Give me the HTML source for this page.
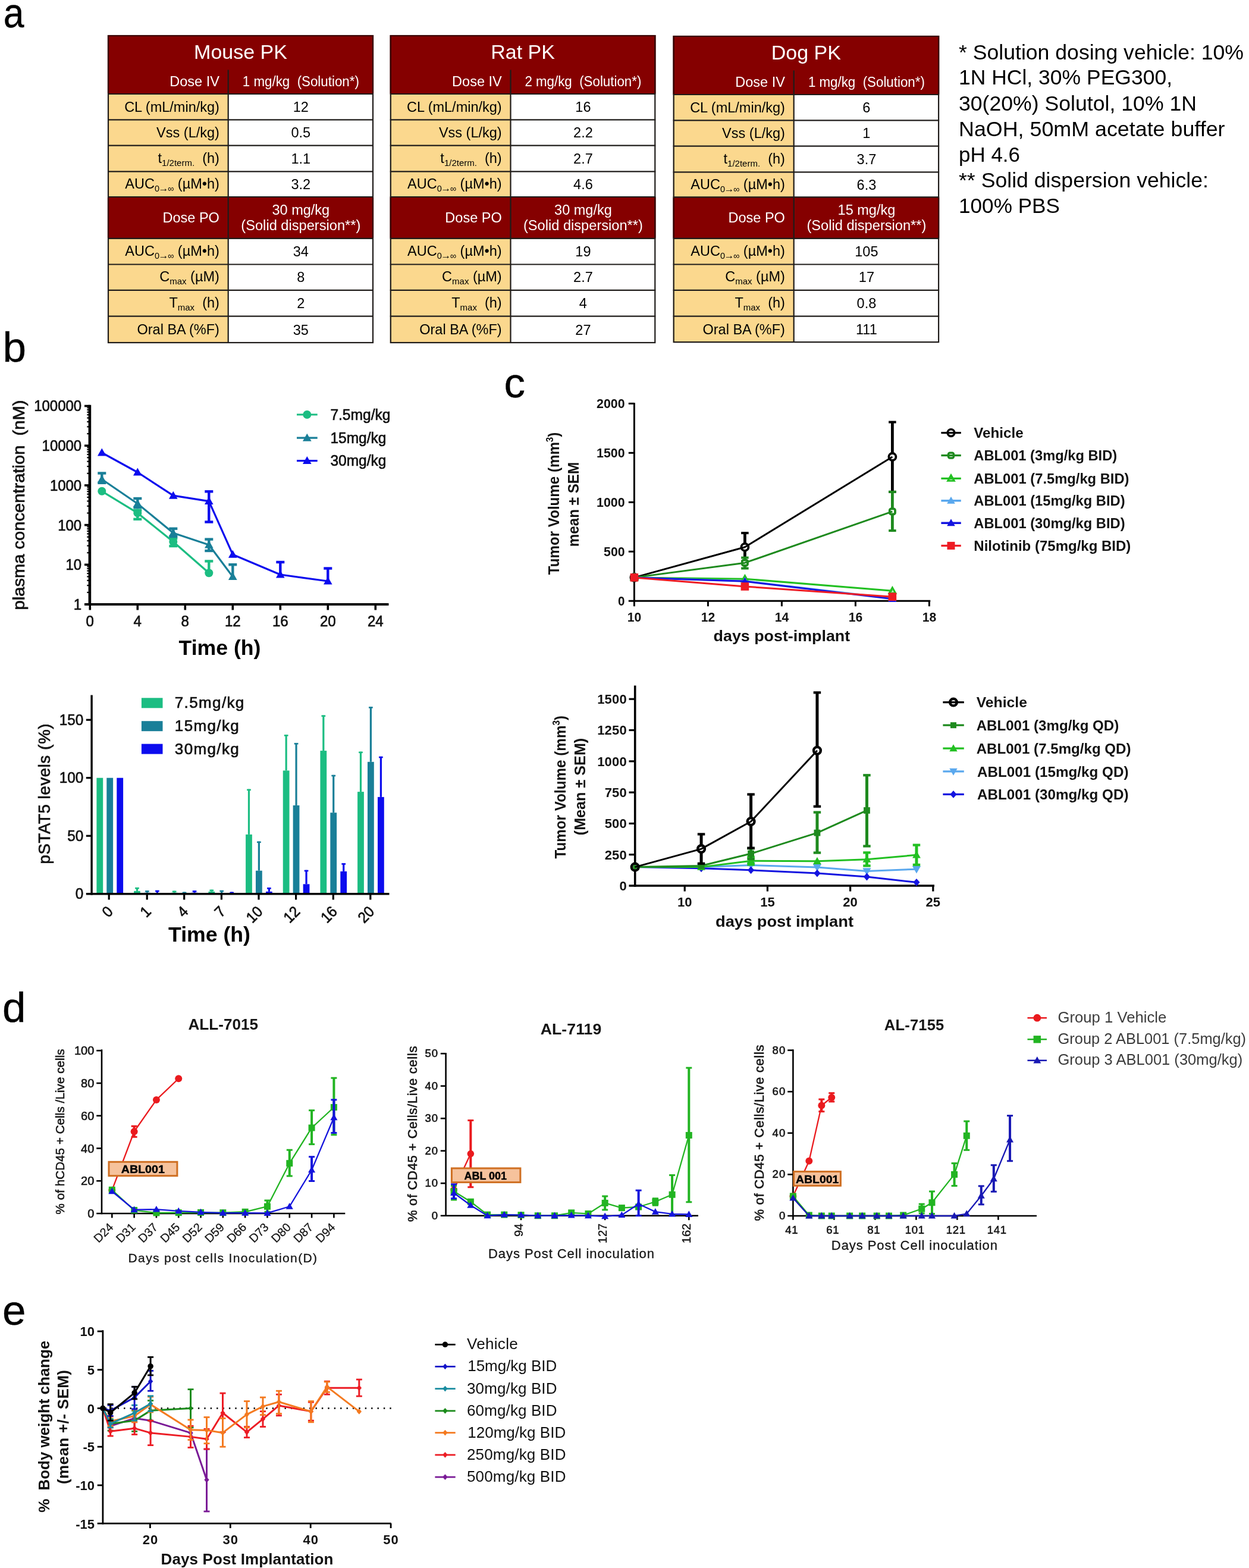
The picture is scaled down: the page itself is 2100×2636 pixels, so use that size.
<!DOCTYPE html>
<html lang="en">
<head>
<meta charset="utf-8">
<title>ABL001 pharmacokinetics and in vivo efficacy</title>
<style>
html,body{margin:0;padding:0;background:#fff}
body{width:2100px;height:2636px;overflow:hidden}
svg{display:block;font-family:"Liberation Sans",Arial,Helvetica,sans-serif}
</style>
</head>
<body>
<svg width="2100" height="2636" viewBox="0 0 2100 2636">
<rect x="0" y="0" width="2100" height="2636" fill="#ffffff"/>
<g id="panel-a">
<rect x="181" y="59" width="447" height="518" fill="#fff"/>
<rect x="181" y="59" width="447" height="99" fill="#850000"/>
<rect x="181" y="158" width="202.7" height="173" fill="#fbd88e"/>
<rect x="181" y="331" width="447" height="69.8" fill="#850000"/>
<rect x="181" y="400.8" width="202.7" height="176.2" fill="#fbd88e"/>
<rect x="182" y="60" width="445" height="516" fill="none" stroke="#1f1c1a" stroke-width="2.2"/>
<path d="M182 157V60H627V157" fill="none" stroke="#3a0000" stroke-width="2.2"/>
<line x1="182" y1="332" x2="182" y2="399.8" stroke="#3a0000" stroke-width="2.2"/>
<line x1="627" y1="332" x2="627" y2="399.8" stroke="#3a0000" stroke-width="2.2"/>
<line x1="181" y1="158" x2="628" y2="158" stroke="#1f1c1a" stroke-width="2.2"/>
<line x1="181" y1="201.3" x2="628" y2="201.3" stroke="#1f1c1a" stroke-width="2.2"/>
<line x1="181" y1="244.7" x2="628" y2="244.7" stroke="#1f1c1a" stroke-width="2.2"/>
<line x1="181" y1="288.3" x2="628" y2="288.3" stroke="#1f1c1a" stroke-width="2.2"/>
<line x1="181" y1="331" x2="628" y2="331" stroke="#1f1c1a" stroke-width="2.2"/>
<line x1="181" y1="400.8" x2="628" y2="400.8" stroke="#1f1c1a" stroke-width="2.2"/>
<line x1="181" y1="444.5" x2="628" y2="444.5" stroke="#1f1c1a" stroke-width="2.2"/>
<line x1="181" y1="487.8" x2="628" y2="487.8" stroke="#1f1c1a" stroke-width="2.2"/>
<line x1="181" y1="531.7" x2="628" y2="531.7" stroke="#1f1c1a" stroke-width="2.2"/>
<line x1="383.7" y1="117.5" x2="383.7" y2="577" stroke="#1f1c1a" stroke-width="2.2"/>
<text x="404.5" y="99" font-size="34" text-anchor="middle" fill="#fff" xml:space="preserve">Mouse PK</text>
<text x="368.9" y="144.5" font-size="23.5" text-anchor="end" fill="#fff" xml:space="preserve">Dose IV</text>
<text x="505.85" y="144.5" font-size="23.5" text-anchor="middle" fill="#fff" textLength="196" lengthAdjust="spacingAndGlyphs" xml:space="preserve">1 mg/kg  (Solution*)</text>
<text x="368.9" y="187.95" font-size="23.5" text-anchor="end" xml:space="preserve">CL (mL/min/kg)</text>
<text x="505.85" y="187.95" font-size="23.5" text-anchor="middle" xml:space="preserve">12</text>
<text x="368.9" y="231.3" font-size="23.5" text-anchor="end" xml:space="preserve">Vss (L/kg)</text>
<text x="505.85" y="231.3" font-size="23.5" text-anchor="middle" xml:space="preserve">0.5</text>
<text x="368.9" y="273.8" font-size="23.5" text-anchor="end" xml:space="preserve">t<tspan font-size="15" dy="5">1/2term.</tspan><tspan dy="-5">  (h)</tspan></text>
<text x="505.85" y="274.8" font-size="23.5" text-anchor="middle" xml:space="preserve">1.1</text>
<text x="368.9" y="316.95" font-size="23.5" text-anchor="end" xml:space="preserve">AUC<tspan font-size="14.5" dy="5">0<tspan font-size="17" dx="-1.5">→</tspan><tspan dx="-1.5">∞</tspan></tspan><tspan dy="-5"> (µM•h)</tspan></text>
<text x="505.85" y="317.95" font-size="23.5" text-anchor="middle" xml:space="preserve">3.2</text>
<text x="368.9" y="373.9" font-size="23.5" text-anchor="end" fill="#fff" xml:space="preserve">Dose PO</text>
<text x="505.85" y="360.5" font-size="23.5" text-anchor="middle" fill="#fff" xml:space="preserve">30 mg/kg</text>
<text x="505.85" y="386.7" font-size="23.5" text-anchor="middle" fill="#fff" textLength="201" lengthAdjust="spacingAndGlyphs" xml:space="preserve">(Solid dispersion**)</text>
<text x="368.9" y="429.95" font-size="23.5" text-anchor="end" xml:space="preserve">AUC<tspan font-size="14.5" dy="5">0<tspan font-size="17" dx="-1.5">→</tspan><tspan dx="-1.5">∞</tspan></tspan><tspan dy="-5"> (µM•h)</tspan></text>
<text x="505.85" y="430.95" font-size="23.5" text-anchor="middle" xml:space="preserve">34</text>
<text x="368.9" y="473.45" font-size="23.5" text-anchor="end" xml:space="preserve">C<tspan font-size="15" dy="5">max</tspan><tspan dy="-5"> (µM)</tspan></text>
<text x="505.85" y="474.45" font-size="23.5" text-anchor="middle" xml:space="preserve">8</text>
<text x="368.9" y="517.05" font-size="23.5" text-anchor="end" xml:space="preserve">T<tspan font-size="15" dy="5">max</tspan><tspan dy="-5">  (h)</tspan></text>
<text x="505.85" y="518.05" font-size="23.5" text-anchor="middle" xml:space="preserve">2</text>
<text x="368.9" y="562.35" font-size="23.5" text-anchor="end" xml:space="preserve">Oral BA (%F)</text>
<text x="505.85" y="562.65" font-size="23.5" text-anchor="middle" xml:space="preserve">35</text>
<rect x="655.8" y="59" width="446.5" height="518" fill="#fff"/>
<rect x="655.8" y="59" width="446.5" height="99" fill="#850000"/>
<rect x="655.8" y="158" width="202.7" height="173" fill="#fbd88e"/>
<rect x="655.8" y="331" width="446.5" height="69.8" fill="#850000"/>
<rect x="655.8" y="400.8" width="202.7" height="176.2" fill="#fbd88e"/>
<rect x="656.8" y="60" width="444.5" height="516" fill="none" stroke="#1f1c1a" stroke-width="2.2"/>
<path d="M656.8 157V60H1101.3V157" fill="none" stroke="#3a0000" stroke-width="2.2"/>
<line x1="656.8" y1="332" x2="656.8" y2="399.8" stroke="#3a0000" stroke-width="2.2"/>
<line x1="1101.3" y1="332" x2="1101.3" y2="399.8" stroke="#3a0000" stroke-width="2.2"/>
<line x1="655.8" y1="158" x2="1102.3" y2="158" stroke="#1f1c1a" stroke-width="2.2"/>
<line x1="655.8" y1="201.3" x2="1102.3" y2="201.3" stroke="#1f1c1a" stroke-width="2.2"/>
<line x1="655.8" y1="244.7" x2="1102.3" y2="244.7" stroke="#1f1c1a" stroke-width="2.2"/>
<line x1="655.8" y1="288.3" x2="1102.3" y2="288.3" stroke="#1f1c1a" stroke-width="2.2"/>
<line x1="655.8" y1="331" x2="1102.3" y2="331" stroke="#1f1c1a" stroke-width="2.2"/>
<line x1="655.8" y1="400.8" x2="1102.3" y2="400.8" stroke="#1f1c1a" stroke-width="2.2"/>
<line x1="655.8" y1="444.5" x2="1102.3" y2="444.5" stroke="#1f1c1a" stroke-width="2.2"/>
<line x1="655.8" y1="487.8" x2="1102.3" y2="487.8" stroke="#1f1c1a" stroke-width="2.2"/>
<line x1="655.8" y1="531.7" x2="1102.3" y2="531.7" stroke="#1f1c1a" stroke-width="2.2"/>
<line x1="858.5" y1="117.5" x2="858.5" y2="577" stroke="#1f1c1a" stroke-width="2.2"/>
<text x="879.05" y="99" font-size="34" text-anchor="middle" fill="#fff" xml:space="preserve">Rat PK</text>
<text x="843.7" y="144.5" font-size="23.5" text-anchor="end" fill="#fff" xml:space="preserve">Dose IV</text>
<text x="980.4" y="144.5" font-size="23.5" text-anchor="middle" fill="#fff" textLength="196" lengthAdjust="spacingAndGlyphs" xml:space="preserve">2 mg/kg  (Solution*)</text>
<text x="843.7" y="187.95" font-size="23.5" text-anchor="end" xml:space="preserve">CL (mL/min/kg)</text>
<text x="980.4" y="187.95" font-size="23.5" text-anchor="middle" xml:space="preserve">16</text>
<text x="843.7" y="231.3" font-size="23.5" text-anchor="end" xml:space="preserve">Vss (L/kg)</text>
<text x="980.4" y="231.3" font-size="23.5" text-anchor="middle" xml:space="preserve">2.2</text>
<text x="843.7" y="273.8" font-size="23.5" text-anchor="end" xml:space="preserve">t<tspan font-size="15" dy="5">1/2term.</tspan><tspan dy="-5">  (h)</tspan></text>
<text x="980.4" y="274.8" font-size="23.5" text-anchor="middle" xml:space="preserve">2.7</text>
<text x="843.7" y="316.95" font-size="23.5" text-anchor="end" xml:space="preserve">AUC<tspan font-size="14.5" dy="5">0<tspan font-size="17" dx="-1.5">→</tspan><tspan dx="-1.5">∞</tspan></tspan><tspan dy="-5"> (µM•h)</tspan></text>
<text x="980.4" y="317.95" font-size="23.5" text-anchor="middle" xml:space="preserve">4.6</text>
<text x="843.7" y="373.9" font-size="23.5" text-anchor="end" fill="#fff" xml:space="preserve">Dose PO</text>
<text x="980.4" y="360.5" font-size="23.5" text-anchor="middle" fill="#fff" xml:space="preserve">30 mg/kg</text>
<text x="980.4" y="386.7" font-size="23.5" text-anchor="middle" fill="#fff" textLength="201" lengthAdjust="spacingAndGlyphs" xml:space="preserve">(Solid dispersion**)</text>
<text x="843.7" y="429.95" font-size="23.5" text-anchor="end" xml:space="preserve">AUC<tspan font-size="14.5" dy="5">0<tspan font-size="17" dx="-1.5">→</tspan><tspan dx="-1.5">∞</tspan></tspan><tspan dy="-5"> (µM•h)</tspan></text>
<text x="980.4" y="430.95" font-size="23.5" text-anchor="middle" xml:space="preserve">19</text>
<text x="843.7" y="473.45" font-size="23.5" text-anchor="end" xml:space="preserve">C<tspan font-size="15" dy="5">max</tspan><tspan dy="-5"> (µM)</tspan></text>
<text x="980.4" y="474.45" font-size="23.5" text-anchor="middle" xml:space="preserve">2.7</text>
<text x="843.7" y="517.05" font-size="23.5" text-anchor="end" xml:space="preserve">T<tspan font-size="15" dy="5">max</tspan><tspan dy="-5">  (h)</tspan></text>
<text x="980.4" y="518.05" font-size="23.5" text-anchor="middle" xml:space="preserve">4</text>
<text x="843.7" y="562.35" font-size="23.5" text-anchor="end" xml:space="preserve">Oral BA (%F)</text>
<text x="980.4" y="562.65" font-size="23.5" text-anchor="middle" xml:space="preserve">27</text>
<rect x="1131.7" y="60" width="447.4" height="516.1" fill="#fff"/>
<rect x="1131.7" y="60" width="447.4" height="99" fill="#850000"/>
<rect x="1131.7" y="159" width="203" height="172.4" fill="#fbd88e"/>
<rect x="1131.7" y="331.4" width="447.4" height="69.4" fill="#850000"/>
<rect x="1131.7" y="400.8" width="203" height="175.3" fill="#fbd88e"/>
<rect x="1132.7" y="61" width="445.4" height="514.1" fill="none" stroke="#1f1c1a" stroke-width="2.2"/>
<path d="M1132.7 158V61H1578.1V158" fill="none" stroke="#3a0000" stroke-width="2.2"/>
<line x1="1132.7" y1="332.4" x2="1132.7" y2="399.8" stroke="#3a0000" stroke-width="2.2"/>
<line x1="1578.1" y1="332.4" x2="1578.1" y2="399.8" stroke="#3a0000" stroke-width="2.2"/>
<line x1="1131.7" y1="159" x2="1579.1" y2="159" stroke="#1f1c1a" stroke-width="2.2"/>
<line x1="1131.7" y1="202.3" x2="1579.1" y2="202.3" stroke="#1f1c1a" stroke-width="2.2"/>
<line x1="1131.7" y1="245.7" x2="1579.1" y2="245.7" stroke="#1f1c1a" stroke-width="2.2"/>
<line x1="1131.7" y1="289.3" x2="1579.1" y2="289.3" stroke="#1f1c1a" stroke-width="2.2"/>
<line x1="1131.7" y1="331.4" x2="1579.1" y2="331.4" stroke="#1f1c1a" stroke-width="2.2"/>
<line x1="1131.7" y1="400.8" x2="1579.1" y2="400.8" stroke="#1f1c1a" stroke-width="2.2"/>
<line x1="1131.7" y1="444.5" x2="1579.1" y2="444.5" stroke="#1f1c1a" stroke-width="2.2"/>
<line x1="1131.7" y1="487.8" x2="1579.1" y2="487.8" stroke="#1f1c1a" stroke-width="2.2"/>
<line x1="1131.7" y1="531.7" x2="1579.1" y2="531.7" stroke="#1f1c1a" stroke-width="2.2"/>
<line x1="1334.7" y1="118.5" x2="1334.7" y2="576.1" stroke="#1f1c1a" stroke-width="2.2"/>
<text x="1355.4" y="100" font-size="34" text-anchor="middle" fill="#fff" xml:space="preserve">Dog PK</text>
<text x="1319.9" y="145.5" font-size="23.5" text-anchor="end" fill="#fff" xml:space="preserve">Dose IV</text>
<text x="1456.9" y="145.5" font-size="23.5" text-anchor="middle" fill="#fff" textLength="196" lengthAdjust="spacingAndGlyphs" xml:space="preserve">1 mg/kg  (Solution*)</text>
<text x="1319.9" y="188.95" font-size="23.5" text-anchor="end" xml:space="preserve">CL (mL/min/kg)</text>
<text x="1456.9" y="188.95" font-size="23.5" text-anchor="middle" xml:space="preserve">6</text>
<text x="1319.9" y="232.3" font-size="23.5" text-anchor="end" xml:space="preserve">Vss (L/kg)</text>
<text x="1456.9" y="232.3" font-size="23.5" text-anchor="middle" xml:space="preserve">1</text>
<text x="1319.9" y="274.8" font-size="23.5" text-anchor="end" xml:space="preserve">t<tspan font-size="15" dy="5">1/2term.</tspan><tspan dy="-5">  (h)</tspan></text>
<text x="1456.9" y="275.8" font-size="23.5" text-anchor="middle" xml:space="preserve">3.7</text>
<text x="1319.9" y="317.65" font-size="23.5" text-anchor="end" xml:space="preserve">AUC<tspan font-size="14.5" dy="5">0<tspan font-size="17" dx="-1.5">→</tspan><tspan dx="-1.5">∞</tspan></tspan><tspan dy="-5"> (µM•h)</tspan></text>
<text x="1456.9" y="318.65" font-size="23.5" text-anchor="middle" xml:space="preserve">6.3</text>
<text x="1319.9" y="374.1" font-size="23.5" text-anchor="end" fill="#fff" xml:space="preserve">Dose PO</text>
<text x="1456.9" y="360.7" font-size="23.5" text-anchor="middle" fill="#fff" xml:space="preserve">15 mg/kg</text>
<text x="1456.9" y="386.9" font-size="23.5" text-anchor="middle" fill="#fff" textLength="201" lengthAdjust="spacingAndGlyphs" xml:space="preserve">(Solid dispersion**)</text>
<text x="1319.9" y="429.95" font-size="23.5" text-anchor="end" xml:space="preserve">AUC<tspan font-size="14.5" dy="5">0<tspan font-size="17" dx="-1.5">→</tspan><tspan dx="-1.5">∞</tspan></tspan><tspan dy="-5"> (µM•h)</tspan></text>
<text x="1456.9" y="430.95" font-size="23.5" text-anchor="middle" xml:space="preserve">105</text>
<text x="1319.9" y="473.45" font-size="23.5" text-anchor="end" xml:space="preserve">C<tspan font-size="15" dy="5">max</tspan><tspan dy="-5"> (µM)</tspan></text>
<text x="1456.9" y="474.45" font-size="23.5" text-anchor="middle" xml:space="preserve">17</text>
<text x="1319.9" y="517.05" font-size="23.5" text-anchor="end" xml:space="preserve">T<tspan font-size="15" dy="5">max</tspan><tspan dy="-5">  (h)</tspan></text>
<text x="1456.9" y="518.05" font-size="23.5" text-anchor="middle" xml:space="preserve">0.8</text>
<text x="1319.9" y="561.9" font-size="23.5" text-anchor="end" xml:space="preserve">Oral BA (%F)</text>
<text x="1456.9" y="562.2" font-size="23.5" text-anchor="middle" xml:space="preserve">111</text>
<text x="1612" y="99.5" font-size="34.5" textLength="479" lengthAdjust="spacingAndGlyphs" xml:space="preserve">* Solution dosing vehicle: 10%</text>
<text x="1612" y="142.4" font-size="34.5" textLength="359" lengthAdjust="spacingAndGlyphs" xml:space="preserve">1N HCl, 30% PEG300,</text>
<text x="1612" y="185.6" font-size="34.5" textLength="400" lengthAdjust="spacingAndGlyphs" xml:space="preserve">30(20%) Solutol, 10% 1N</text>
<text x="1612" y="229" font-size="34.5" textLength="447.5" lengthAdjust="spacingAndGlyphs" xml:space="preserve">NaOH, 50mM acetate buffer</text>
<text x="1612" y="272" font-size="34.5" textLength="103" lengthAdjust="spacingAndGlyphs" xml:space="preserve">pH 4.6</text>
<text x="1612" y="314.6" font-size="34.5" textLength="420" lengthAdjust="spacingAndGlyphs" xml:space="preserve">** Solid dispersion vehicle:</text>
<text x="1612" y="357.8" font-size="34.5" textLength="170" lengthAdjust="spacingAndGlyphs" xml:space="preserve">100% PBS</text>
</g>
<text x="5.7" y="45.8" font-size="71" textLength="34.7" lengthAdjust="spacingAndGlyphs" stroke="#000" stroke-width="0.4" xml:space="preserve">a</text>
<text x="4.6" y="608.4" font-size="71" stroke="#000" stroke-width="0.4" xml:space="preserve">b</text>
<text x="847.5" y="667.8" font-size="71" stroke="#000" stroke-width="0.4" xml:space="preserve">c</text>
<text x="3.9" y="1718.4" font-size="71" stroke="#000" stroke-width="0.4" xml:space="preserve">d</text>
<text x="3.9" y="2226.8" font-size="71" stroke="#000" stroke-width="0.4" xml:space="preserve">e</text>
<g id="panel-b">
<line x1="150.9" y1="680.8" x2="150.9" y2="1018" stroke="#000" stroke-width="4.6"/>
<line x1="142" y1="1016" x2="653.5" y2="1016" stroke="#000" stroke-width="4"/>
<text x="137.2" y="1024.9" font-size="26" text-anchor="end" fill="#111" textLength="13.4" lengthAdjust="spacingAndGlyphs" stroke="#111" stroke-width="0.7" xml:space="preserve">1</text>
<line x1="146.3" y1="995.92" x2="151.3" y2="995.92" stroke="#000" stroke-width="2.2"/>
<line x1="146.3" y1="984.18" x2="151.3" y2="984.18" stroke="#000" stroke-width="2.2"/>
<line x1="146.3" y1="975.84" x2="151.3" y2="975.84" stroke="#000" stroke-width="2.2"/>
<line x1="146.3" y1="969.38" x2="151.3" y2="969.38" stroke="#000" stroke-width="2.2"/>
<line x1="146.3" y1="964.1" x2="151.3" y2="964.1" stroke="#000" stroke-width="2.2"/>
<line x1="146.3" y1="959.63" x2="151.3" y2="959.63" stroke="#000" stroke-width="2.2"/>
<line x1="146.3" y1="955.76" x2="151.3" y2="955.76" stroke="#000" stroke-width="2.2"/>
<line x1="146.3" y1="952.35" x2="151.3" y2="952.35" stroke="#000" stroke-width="2.2"/>
<line x1="142" y1="949.3" x2="151.3" y2="949.3" stroke="#000" stroke-width="3.6"/>
<text x="137.2" y="958.2" font-size="26" text-anchor="end" fill="#111" textLength="26.7" lengthAdjust="spacingAndGlyphs" stroke="#111" stroke-width="0.7" xml:space="preserve">10</text>
<line x1="146.3" y1="929.22" x2="151.3" y2="929.22" stroke="#000" stroke-width="2.2"/>
<line x1="146.3" y1="917.48" x2="151.3" y2="917.48" stroke="#000" stroke-width="2.2"/>
<line x1="146.3" y1="909.14" x2="151.3" y2="909.14" stroke="#000" stroke-width="2.2"/>
<line x1="146.3" y1="902.68" x2="151.3" y2="902.68" stroke="#000" stroke-width="2.2"/>
<line x1="146.3" y1="897.4" x2="151.3" y2="897.4" stroke="#000" stroke-width="2.2"/>
<line x1="146.3" y1="892.93" x2="151.3" y2="892.93" stroke="#000" stroke-width="2.2"/>
<line x1="146.3" y1="889.06" x2="151.3" y2="889.06" stroke="#000" stroke-width="2.2"/>
<line x1="146.3" y1="885.65" x2="151.3" y2="885.65" stroke="#000" stroke-width="2.2"/>
<line x1="142" y1="882.6" x2="151.3" y2="882.6" stroke="#000" stroke-width="3.6"/>
<text x="137.2" y="891.5" font-size="26" text-anchor="end" fill="#111" textLength="40" lengthAdjust="spacingAndGlyphs" stroke="#111" stroke-width="0.7" xml:space="preserve">100</text>
<line x1="146.3" y1="862.52" x2="151.3" y2="862.52" stroke="#000" stroke-width="2.2"/>
<line x1="146.3" y1="850.78" x2="151.3" y2="850.78" stroke="#000" stroke-width="2.2"/>
<line x1="146.3" y1="842.44" x2="151.3" y2="842.44" stroke="#000" stroke-width="2.2"/>
<line x1="146.3" y1="835.98" x2="151.3" y2="835.98" stroke="#000" stroke-width="2.2"/>
<line x1="146.3" y1="830.7" x2="151.3" y2="830.7" stroke="#000" stroke-width="2.2"/>
<line x1="146.3" y1="826.23" x2="151.3" y2="826.23" stroke="#000" stroke-width="2.2"/>
<line x1="146.3" y1="822.36" x2="151.3" y2="822.36" stroke="#000" stroke-width="2.2"/>
<line x1="146.3" y1="818.95" x2="151.3" y2="818.95" stroke="#000" stroke-width="2.2"/>
<line x1="142" y1="815.9" x2="151.3" y2="815.9" stroke="#000" stroke-width="3.6"/>
<text x="137.2" y="824.8" font-size="26" text-anchor="end" fill="#111" textLength="53.3" lengthAdjust="spacingAndGlyphs" stroke="#111" stroke-width="0.7" xml:space="preserve">1000</text>
<line x1="146.3" y1="795.82" x2="151.3" y2="795.82" stroke="#000" stroke-width="2.2"/>
<line x1="146.3" y1="784.08" x2="151.3" y2="784.08" stroke="#000" stroke-width="2.2"/>
<line x1="146.3" y1="775.74" x2="151.3" y2="775.74" stroke="#000" stroke-width="2.2"/>
<line x1="146.3" y1="769.28" x2="151.3" y2="769.28" stroke="#000" stroke-width="2.2"/>
<line x1="146.3" y1="764" x2="151.3" y2="764" stroke="#000" stroke-width="2.2"/>
<line x1="146.3" y1="759.53" x2="151.3" y2="759.53" stroke="#000" stroke-width="2.2"/>
<line x1="146.3" y1="755.66" x2="151.3" y2="755.66" stroke="#000" stroke-width="2.2"/>
<line x1="146.3" y1="752.25" x2="151.3" y2="752.25" stroke="#000" stroke-width="2.2"/>
<line x1="142" y1="749.2" x2="151.3" y2="749.2" stroke="#000" stroke-width="3.6"/>
<text x="137.2" y="758.1" font-size="26" text-anchor="end" fill="#111" textLength="66.6" lengthAdjust="spacingAndGlyphs" stroke="#111" stroke-width="0.7" xml:space="preserve">10000</text>
<line x1="146.3" y1="729.12" x2="151.3" y2="729.12" stroke="#000" stroke-width="2.2"/>
<line x1="146.3" y1="717.38" x2="151.3" y2="717.38" stroke="#000" stroke-width="2.2"/>
<line x1="146.3" y1="709.04" x2="151.3" y2="709.04" stroke="#000" stroke-width="2.2"/>
<line x1="146.3" y1="702.58" x2="151.3" y2="702.58" stroke="#000" stroke-width="2.2"/>
<line x1="146.3" y1="697.3" x2="151.3" y2="697.3" stroke="#000" stroke-width="2.2"/>
<line x1="146.3" y1="692.83" x2="151.3" y2="692.83" stroke="#000" stroke-width="2.2"/>
<line x1="146.3" y1="688.96" x2="151.3" y2="688.96" stroke="#000" stroke-width="2.2"/>
<line x1="146.3" y1="685.55" x2="151.3" y2="685.55" stroke="#000" stroke-width="2.2"/>
<line x1="142" y1="682.5" x2="151.3" y2="682.5" stroke="#000" stroke-width="3.6"/>
<text x="137.2" y="691.4" font-size="26" text-anchor="end" fill="#111" textLength="80" lengthAdjust="spacingAndGlyphs" stroke="#111" stroke-width="0.7" xml:space="preserve">100000</text>
<line x1="151.3" y1="1016" x2="151.3" y2="1025.5" stroke="#000" stroke-width="3.6"/>
<text x="151.3" y="1053.2" font-size="26" text-anchor="middle" fill="#111" textLength="13.4" lengthAdjust="spacingAndGlyphs" stroke="#111" stroke-width="0.7" xml:space="preserve">0</text>
<line x1="231.3" y1="1016" x2="231.3" y2="1025.5" stroke="#000" stroke-width="3.6"/>
<text x="231.3" y="1053.2" font-size="26" text-anchor="middle" fill="#111" textLength="13.4" lengthAdjust="spacingAndGlyphs" stroke="#111" stroke-width="0.7" xml:space="preserve">4</text>
<line x1="311.3" y1="1016" x2="311.3" y2="1025.5" stroke="#000" stroke-width="3.6"/>
<text x="311.3" y="1053.2" font-size="26" text-anchor="middle" fill="#111" textLength="13.4" lengthAdjust="spacingAndGlyphs" stroke="#111" stroke-width="0.7" xml:space="preserve">8</text>
<line x1="391.3" y1="1016" x2="391.3" y2="1025.5" stroke="#000" stroke-width="3.6"/>
<text x="391.3" y="1053.2" font-size="26" text-anchor="middle" fill="#111" textLength="26.8" lengthAdjust="spacingAndGlyphs" stroke="#111" stroke-width="0.7" xml:space="preserve">12</text>
<line x1="471.3" y1="1016" x2="471.3" y2="1025.5" stroke="#000" stroke-width="3.6"/>
<text x="471.3" y="1053.2" font-size="26" text-anchor="middle" fill="#111" textLength="26.8" lengthAdjust="spacingAndGlyphs" stroke="#111" stroke-width="0.7" xml:space="preserve">16</text>
<line x1="551.3" y1="1016" x2="551.3" y2="1025.5" stroke="#000" stroke-width="3.6"/>
<text x="551.3" y="1053.2" font-size="26" text-anchor="middle" fill="#111" textLength="26.8" lengthAdjust="spacingAndGlyphs" stroke="#111" stroke-width="0.7" xml:space="preserve">20</text>
<line x1="631.3" y1="1016" x2="631.3" y2="1025.5" stroke="#000" stroke-width="3.6"/>
<text x="631.3" y="1053.2" font-size="26" text-anchor="middle" fill="#111" textLength="26.8" lengthAdjust="spacingAndGlyphs" stroke="#111" stroke-width="0.7" xml:space="preserve">24</text>
<text x="369.5" y="1100.5" font-size="34.5" text-anchor="middle" font-weight="bold" textLength="138" lengthAdjust="spacingAndGlyphs" xml:space="preserve">Time (h)</text>
<text font-size="28" text-anchor="middle" fill="#111" textLength="353" lengthAdjust="spacingAndGlyphs" stroke="#111" stroke-width="0.7" transform="translate(41 849) rotate(-90)" xml:space="preserve">plasma concentration  (nM)</text>
<polyline points="171.3,825.8 231.3,862.4 291.3,910.8 351.3,963.2" fill="none" stroke="#1cbd82" stroke-width="3.2" stroke-linejoin="round"/>
<line x1="231.3" y1="857.7" x2="231.3" y2="872.8" stroke="#1cbd82" stroke-width="4.4"/>
<line x1="224.3" y1="857.7" x2="238.3" y2="857.7" stroke="#1cbd82" stroke-width="4.4"/>
<line x1="224.3" y1="872.8" x2="238.3" y2="872.8" stroke="#1cbd82" stroke-width="4.4"/>
<line x1="291.3" y1="905" x2="291.3" y2="918" stroke="#1cbd82" stroke-width="4.4"/>
<line x1="284.3" y1="905" x2="298.3" y2="905" stroke="#1cbd82" stroke-width="4.4"/>
<line x1="284.3" y1="918" x2="298.3" y2="918" stroke="#1cbd82" stroke-width="4.4"/>
<line x1="351.3" y1="963.2" x2="351.3" y2="943.4" stroke="#1cbd82" stroke-width="4.4"/>
<line x1="344.3" y1="943.4" x2="358.3" y2="943.4" stroke="#1cbd82" stroke-width="4.4"/>
<circle cx="171.3" cy="825.8" r="7" fill="#1cbd82"/>
<circle cx="231.3" cy="862.4" r="7" fill="#1cbd82"/>
<circle cx="291.3" cy="910.8" r="7" fill="#1cbd82"/>
<circle cx="351.3" cy="963.2" r="7" fill="#1cbd82"/>
<polyline points="171.3,805.8 231.3,846.7 291.3,896 351.3,916 391.3,969.5" fill="none" stroke="#197f98" stroke-width="3.2" stroke-linejoin="round"/>
<line x1="171.3" y1="795.5" x2="171.3" y2="811.8" stroke="#197f98" stroke-width="4.4"/>
<line x1="164.3" y1="795.5" x2="178.3" y2="795.5" stroke="#197f98" stroke-width="4.4"/>
<line x1="164.3" y1="811.8" x2="178.3" y2="811.8" stroke="#197f98" stroke-width="4.4"/>
<line x1="231.3" y1="838" x2="231.3" y2="853" stroke="#197f98" stroke-width="4.4"/>
<line x1="224.3" y1="838" x2="238.3" y2="838" stroke="#197f98" stroke-width="4.4"/>
<line x1="224.3" y1="853" x2="238.3" y2="853" stroke="#197f98" stroke-width="4.4"/>
<line x1="291.3" y1="888.7" x2="291.3" y2="902" stroke="#197f98" stroke-width="4.4"/>
<line x1="284.3" y1="888.7" x2="298.3" y2="888.7" stroke="#197f98" stroke-width="4.4"/>
<line x1="284.3" y1="902" x2="298.3" y2="902" stroke="#197f98" stroke-width="4.4"/>
<line x1="351.3" y1="906.6" x2="351.3" y2="926" stroke="#197f98" stroke-width="4.4"/>
<line x1="344.3" y1="906.6" x2="358.3" y2="906.6" stroke="#197f98" stroke-width="4.4"/>
<line x1="344.3" y1="926" x2="358.3" y2="926" stroke="#197f98" stroke-width="4.4"/>
<line x1="391.3" y1="969.5" x2="391.3" y2="949.2" stroke="#197f98" stroke-width="4.4"/>
<line x1="384.3" y1="949.2" x2="398.3" y2="949.2" stroke="#197f98" stroke-width="4.4"/>
<polygon points="171.3,798.31 178.64,811.23 163.96,811.23" fill="#197f98"/>
<polygon points="231.3,839.21 238.64,852.13 223.96,852.13" fill="#197f98"/>
<polygon points="291.3,888.51 298.64,901.43 283.96,901.43" fill="#197f98"/>
<polygon points="351.3,908.51 358.64,921.43 343.96,921.43" fill="#197f98"/>
<polygon points="391.3,962.01 398.64,974.93 383.96,974.93" fill="#197f98"/>
<polyline points="171.3,761 231.3,794 291.3,833.2 351.3,842.6 391.3,932.2 471.3,966 551.3,977" fill="none" stroke="#0c0cee" stroke-width="3.2" stroke-linejoin="round"/>
<line x1="351.3" y1="826.3" x2="351.3" y2="877.5" stroke="#0c0cee" stroke-width="4.4"/>
<line x1="344.3" y1="826.3" x2="358.3" y2="826.3" stroke="#0c0cee" stroke-width="4.4"/>
<line x1="344.3" y1="877.5" x2="358.3" y2="877.5" stroke="#0c0cee" stroke-width="4.4"/>
<line x1="471.3" y1="966" x2="471.3" y2="945" stroke="#0c0cee" stroke-width="4.4"/>
<line x1="464.3" y1="945" x2="478.3" y2="945" stroke="#0c0cee" stroke-width="4.4"/>
<line x1="551.3" y1="977" x2="551.3" y2="955.5" stroke="#0c0cee" stroke-width="4.4"/>
<line x1="544.3" y1="955.5" x2="558.3" y2="955.5" stroke="#0c0cee" stroke-width="4.4"/>
<polygon points="171.3,753.51 178.64,766.43 163.96,766.43" fill="#0c0cee"/>
<polygon points="231.3,786.51 238.64,799.43 223.96,799.43" fill="#0c0cee"/>
<polygon points="291.3,825.71 298.64,838.63 283.96,838.63" fill="#0c0cee"/>
<polygon points="351.3,835.11 358.64,848.03 343.96,848.03" fill="#0c0cee"/>
<polygon points="391.3,924.71 398.64,937.63 383.96,937.63" fill="#0c0cee"/>
<polygon points="471.3,958.51 478.64,971.43 463.96,971.43" fill="#0c0cee"/>
<polygon points="551.3,969.51 558.64,982.43 543.96,982.43" fill="#0c0cee"/>
<line x1="499" y1="697" x2="533.7" y2="697" stroke="#1cbd82" stroke-width="3.2"/>
<circle cx="516.3" cy="697" r="7" fill="#1cbd82"/>
<text x="555.4" y="705.5" font-size="26" fill="#111" textLength="101" lengthAdjust="spacingAndGlyphs" stroke="#111" stroke-width="0.7" xml:space="preserve">7.5mg/kg</text>
<line x1="499" y1="736.2" x2="533.7" y2="736.2" stroke="#197f98" stroke-width="3.2"/>
<polygon points="516.3,728.71 523.64,741.63 508.96,741.63" fill="#197f98"/>
<text x="555.4" y="744.7" font-size="26" fill="#111" textLength="94" lengthAdjust="spacingAndGlyphs" stroke="#111" stroke-width="0.7" xml:space="preserve">15mg/kg</text>
<line x1="499" y1="774.6" x2="533.7" y2="774.6" stroke="#0c0cee" stroke-width="3.2"/>
<polygon points="516.3,767.11 523.64,780.03 508.96,780.03" fill="#0c0cee"/>
<text x="555.4" y="783.1" font-size="26" fill="#111" textLength="94" lengthAdjust="spacingAndGlyphs" stroke="#111" stroke-width="0.7" xml:space="preserve">30mg/kg</text>
<rect x="162.4" y="1307.7" width="10.8" height="195" fill="#1cbd82"/>
<rect x="179.3" y="1307.7" width="10.8" height="195" fill="#197f98"/>
<rect x="196.3" y="1307.7" width="10.8" height="195" fill="#0c0cee"/>
<line x1="230.47" y1="1497.83" x2="230.47" y2="1491.98" stroke="#1cbd82" stroke-width="3.2"/>
<line x1="227.07" y1="1493.18" x2="233.87" y2="1493.18" stroke="#1cbd82" stroke-width="2.6"/>
<rect x="225.07" y="1497.83" width="10.8" height="4.88" fill="#1cbd82"/>
<line x1="247.37" y1="1500.75" x2="247.37" y2="1497.24" stroke="#197f98" stroke-width="3.2"/>
<line x1="243.97" y1="1498.44" x2="250.77" y2="1498.44" stroke="#197f98" stroke-width="2.6"/>
<rect x="241.97" y="1500.75" width="10.8" height="1.95" fill="#197f98"/>
<line x1="264.37" y1="1501.53" x2="264.37" y2="1496.85" stroke="#0c0cee" stroke-width="3.2"/>
<line x1="260.97" y1="1498.05" x2="267.77" y2="1498.05" stroke="#0c0cee" stroke-width="2.6"/>
<rect x="258.97" y="1501.53" width="10.8" height="1.17" fill="#0c0cee"/>
<line x1="293.14" y1="1500.75" x2="293.14" y2="1497.63" stroke="#1cbd82" stroke-width="3.2"/>
<line x1="289.74" y1="1498.83" x2="296.54" y2="1498.83" stroke="#1cbd82" stroke-width="2.6"/>
<rect x="287.74" y="1500.75" width="10.8" height="1.95" fill="#1cbd82"/>
<line x1="310.04" y1="1501.73" x2="310.04" y2="1499.58" stroke="#197f98" stroke-width="3.2"/>
<line x1="306.64" y1="1500.78" x2="313.44" y2="1500.78" stroke="#197f98" stroke-width="2.6"/>
<rect x="304.64" y="1501.73" width="10.8" height="0.97" fill="#197f98"/>
<line x1="327.04" y1="1500.75" x2="327.04" y2="1497.24" stroke="#0c0cee" stroke-width="3.2"/>
<line x1="323.64" y1="1498.44" x2="330.44" y2="1498.44" stroke="#0c0cee" stroke-width="2.6"/>
<rect x="321.64" y="1500.75" width="10.8" height="1.95" fill="#0c0cee"/>
<line x1="355.81" y1="1498.8" x2="355.81" y2="1495.68" stroke="#1cbd82" stroke-width="3.2"/>
<line x1="352.41" y1="1496.88" x2="359.21" y2="1496.88" stroke="#1cbd82" stroke-width="2.6"/>
<rect x="350.41" y="1498.8" width="10.8" height="3.9" fill="#1cbd82"/>
<line x1="372.71" y1="1501.53" x2="372.71" y2="1496.85" stroke="#197f98" stroke-width="3.2"/>
<line x1="369.31" y1="1498.05" x2="376.11" y2="1498.05" stroke="#197f98" stroke-width="2.6"/>
<rect x="367.31" y="1501.53" width="10.8" height="1.17" fill="#197f98"/>
<line x1="389.71" y1="1501.73" x2="389.71" y2="1499.58" stroke="#0c0cee" stroke-width="3.2"/>
<line x1="386.31" y1="1500.78" x2="393.11" y2="1500.78" stroke="#0c0cee" stroke-width="2.6"/>
<rect x="384.31" y="1501.73" width="10.8" height="0.97" fill="#0c0cee"/>
<line x1="418.48" y1="1402.86" x2="418.48" y2="1326.62" stroke="#1cbd82" stroke-width="3.2"/>
<line x1="415.08" y1="1327.82" x2="421.88" y2="1327.82" stroke="#1cbd82" stroke-width="2.6"/>
<rect x="413.08" y="1402.86" width="10.8" height="99.84" fill="#1cbd82"/>
<line x1="435.38" y1="1463.7" x2="435.38" y2="1414.56" stroke="#197f98" stroke-width="3.2"/>
<line x1="431.98" y1="1415.76" x2="438.78" y2="1415.76" stroke="#197f98" stroke-width="2.6"/>
<rect x="429.98" y="1463.7" width="10.8" height="39" fill="#197f98"/>
<line x1="452.38" y1="1498.8" x2="452.38" y2="1492.17" stroke="#0c0cee" stroke-width="3.2"/>
<line x1="448.98" y1="1493.37" x2="455.78" y2="1493.37" stroke="#0c0cee" stroke-width="2.6"/>
<rect x="446.98" y="1498.8" width="10.8" height="3.9" fill="#0c0cee"/>
<line x1="481.15" y1="1295.41" x2="481.15" y2="1235.16" stroke="#1cbd82" stroke-width="3.2"/>
<line x1="477.75" y1="1236.36" x2="484.55" y2="1236.36" stroke="#1cbd82" stroke-width="2.6"/>
<rect x="475.75" y="1295.41" width="10.8" height="207.29" fill="#1cbd82"/>
<line x1="498.05" y1="1353.91" x2="498.05" y2="1249.01" stroke="#197f98" stroke-width="3.2"/>
<line x1="494.65" y1="1250.21" x2="501.45" y2="1250.21" stroke="#197f98" stroke-width="2.6"/>
<rect x="492.65" y="1353.91" width="10.8" height="148.79" fill="#197f98"/>
<line x1="515.05" y1="1486.32" x2="515.05" y2="1462.73" stroke="#0c0cee" stroke-width="3.2"/>
<line x1="511.65" y1="1463.93" x2="518.45" y2="1463.93" stroke="#0c0cee" stroke-width="2.6"/>
<rect x="509.65" y="1486.32" width="10.8" height="16.38" fill="#0c0cee"/>
<line x1="543.82" y1="1262.07" x2="543.82" y2="1202.4" stroke="#1cbd82" stroke-width="3.2"/>
<line x1="540.42" y1="1203.6" x2="547.22" y2="1203.6" stroke="#1cbd82" stroke-width="2.6"/>
<rect x="538.42" y="1262.07" width="10.8" height="240.63" fill="#1cbd82"/>
<line x1="560.72" y1="1366.2" x2="560.72" y2="1302.83" stroke="#197f98" stroke-width="3.2"/>
<line x1="557.32" y1="1304.03" x2="564.12" y2="1304.03" stroke="#197f98" stroke-width="2.6"/>
<rect x="555.32" y="1366.2" width="10.8" height="136.5" fill="#197f98"/>
<line x1="577.72" y1="1464.87" x2="577.72" y2="1451.22" stroke="#0c0cee" stroke-width="3.2"/>
<line x1="574.32" y1="1452.42" x2="581.12" y2="1452.42" stroke="#0c0cee" stroke-width="2.6"/>
<rect x="572.32" y="1464.87" width="10.8" height="37.83" fill="#0c0cee"/>
<line x1="606.49" y1="1331.1" x2="606.49" y2="1263.63" stroke="#1cbd82" stroke-width="3.2"/>
<line x1="603.09" y1="1264.83" x2="609.89" y2="1264.83" stroke="#1cbd82" stroke-width="2.6"/>
<rect x="601.09" y="1331.1" width="10.8" height="171.6" fill="#1cbd82"/>
<line x1="623.39" y1="1280.79" x2="623.39" y2="1188.16" stroke="#197f98" stroke-width="3.2"/>
<line x1="619.99" y1="1189.37" x2="626.79" y2="1189.37" stroke="#197f98" stroke-width="2.6"/>
<rect x="617.99" y="1280.79" width="10.8" height="221.91" fill="#197f98"/>
<line x1="640.39" y1="1339.88" x2="640.39" y2="1271.82" stroke="#0c0cee" stroke-width="3.2"/>
<line x1="636.99" y1="1273.02" x2="643.79" y2="1273.02" stroke="#0c0cee" stroke-width="2.6"/>
<rect x="634.99" y="1339.88" width="10.8" height="162.83" fill="#0c0cee"/>
<line x1="154.1" y1="1168.5" x2="154.1" y2="1504.4" stroke="#000" stroke-width="3.4"/>
<line x1="144.8" y1="1502.7" x2="654.5" y2="1502.7" stroke="#000" stroke-width="3.4"/>
<line x1="144.8" y1="1405.2" x2="154.1" y2="1405.2" stroke="#000" stroke-width="3.2"/>
<line x1="144.8" y1="1307.7" x2="154.1" y2="1307.7" stroke="#000" stroke-width="3.2"/>
<line x1="144.8" y1="1210.2" x2="154.1" y2="1210.2" stroke="#000" stroke-width="3.2"/>
<text x="140.3" y="1511.1" font-size="26" text-anchor="end" fill="#111" textLength="13.5" lengthAdjust="spacingAndGlyphs" stroke="#111" stroke-width="0.7" xml:space="preserve">0</text>
<text x="140.3" y="1413.6" font-size="26" text-anchor="end" fill="#111" textLength="27" lengthAdjust="spacingAndGlyphs" stroke="#111" stroke-width="0.7" xml:space="preserve">50</text>
<text x="140.3" y="1316.1" font-size="26" text-anchor="end" fill="#111" textLength="40.5" lengthAdjust="spacingAndGlyphs" stroke="#111" stroke-width="0.7" xml:space="preserve">100</text>
<text x="140.3" y="1218.6" font-size="26" text-anchor="end" fill="#111" textLength="40.5" lengthAdjust="spacingAndGlyphs" stroke="#111" stroke-width="0.7" xml:space="preserve">150</text>
<line x1="183.2" y1="1502.7" x2="183.2" y2="1512.5" stroke="#000" stroke-width="3.2"/>
<text font-size="25.5" text-anchor="end" fill="#111" textLength="13.4" lengthAdjust="spacingAndGlyphs" stroke="#111" stroke-width="0.7" transform="translate(191.5 1534) rotate(-45)" xml:space="preserve">0</text>
<line x1="247.2" y1="1502.7" x2="247.2" y2="1512.5" stroke="#000" stroke-width="3.2"/>
<text font-size="25.5" text-anchor="end" fill="#111" textLength="13.4" lengthAdjust="spacingAndGlyphs" stroke="#111" stroke-width="0.7" transform="translate(255.5 1534) rotate(-45)" xml:space="preserve">1</text>
<line x1="309.7" y1="1502.7" x2="309.7" y2="1512.5" stroke="#000" stroke-width="3.2"/>
<text font-size="25.5" text-anchor="end" fill="#111" textLength="13.4" lengthAdjust="spacingAndGlyphs" stroke="#111" stroke-width="0.7" transform="translate(318 1534) rotate(-45)" xml:space="preserve">4</text>
<line x1="372.4" y1="1502.7" x2="372.4" y2="1512.5" stroke="#000" stroke-width="3.2"/>
<text font-size="25.5" text-anchor="end" fill="#111" textLength="13.4" lengthAdjust="spacingAndGlyphs" stroke="#111" stroke-width="0.7" transform="translate(380.7 1534) rotate(-45)" xml:space="preserve">7</text>
<line x1="435" y1="1502.7" x2="435" y2="1512.5" stroke="#000" stroke-width="3.2"/>
<text font-size="25.5" text-anchor="end" fill="#111" textLength="26.8" lengthAdjust="spacingAndGlyphs" stroke="#111" stroke-width="0.7" transform="translate(443.3 1534) rotate(-45)" xml:space="preserve">10</text>
<line x1="497.6" y1="1502.7" x2="497.6" y2="1512.5" stroke="#000" stroke-width="3.2"/>
<text font-size="25.5" text-anchor="end" fill="#111" textLength="26.8" lengthAdjust="spacingAndGlyphs" stroke="#111" stroke-width="0.7" transform="translate(505.9 1534) rotate(-45)" xml:space="preserve">12</text>
<line x1="560.3" y1="1502.7" x2="560.3" y2="1512.5" stroke="#000" stroke-width="3.2"/>
<text font-size="25.5" text-anchor="end" fill="#111" textLength="26.8" lengthAdjust="spacingAndGlyphs" stroke="#111" stroke-width="0.7" transform="translate(568.6 1534) rotate(-45)" xml:space="preserve">16</text>
<line x1="622.8" y1="1502.7" x2="622.8" y2="1512.5" stroke="#000" stroke-width="3.2"/>
<text font-size="25.5" text-anchor="end" fill="#111" textLength="26.8" lengthAdjust="spacingAndGlyphs" stroke="#111" stroke-width="0.7" transform="translate(631.1 1534) rotate(-45)" xml:space="preserve">20</text>
<text x="352" y="1583" font-size="34.5" text-anchor="middle" font-weight="bold" textLength="138" lengthAdjust="spacingAndGlyphs" xml:space="preserve">Time (h)</text>
<text font-size="27.5" text-anchor="middle" fill="#111" textLength="236" lengthAdjust="spacing" stroke="#111" stroke-width="0.7" transform="translate(84 1334.5) rotate(-90)" xml:space="preserve">pSTAT5 levels (%)</text>
<rect x="237.9" y="1173.3" width="35.6" height="17" fill="#1cbd82"/>
<text x="293.8" y="1190.3" font-size="26" fill="#111" textLength="116.5" lengthAdjust="spacing" stroke="#111" stroke-width="0.7" xml:space="preserve">7.5mg/kg</text>
<rect x="237.9" y="1212.2" width="35.6" height="17" fill="#197f98"/>
<text x="293.8" y="1229.2" font-size="26" fill="#111" textLength="108" lengthAdjust="spacing" stroke="#111" stroke-width="0.7" xml:space="preserve">15mg/kg</text>
<rect x="237.9" y="1250.6" width="35.6" height="17" fill="#0c0cee"/>
<text x="293.8" y="1267.6" font-size="26" fill="#111" textLength="108" lengthAdjust="spacing" stroke="#111" stroke-width="0.7" xml:space="preserve">30mg/kg</text>
</g>
<g id="panel-c">
<line x1="1066.4" y1="677.2" x2="1066.4" y2="1011.7" stroke="#000" stroke-width="3"/>
<line x1="1056.8" y1="1010.2" x2="1564.3" y2="1010.2" stroke="#000" stroke-width="3"/>
<text x="1050.6" y="1018" font-size="22" text-anchor="end" font-weight="bold" fill="#111" textLength="11.5" lengthAdjust="spacingAndGlyphs" xml:space="preserve">0</text>
<line x1="1056.8" y1="927.25" x2="1066.4" y2="927.25" stroke="#000" stroke-width="3"/>
<text x="1050.6" y="935.05" font-size="22" text-anchor="end" font-weight="bold" fill="#111" textLength="35.5" lengthAdjust="spacingAndGlyphs" xml:space="preserve">500</text>
<line x1="1056.8" y1="844.3" x2="1066.4" y2="844.3" stroke="#000" stroke-width="3"/>
<text x="1050.6" y="852.1" font-size="22" text-anchor="end" font-weight="bold" fill="#111" textLength="47.5" lengthAdjust="spacingAndGlyphs" xml:space="preserve">1000</text>
<line x1="1056.8" y1="761.35" x2="1066.4" y2="761.35" stroke="#000" stroke-width="3"/>
<text x="1050.6" y="769.15" font-size="22" text-anchor="end" font-weight="bold" fill="#111" textLength="47.5" lengthAdjust="spacingAndGlyphs" xml:space="preserve">1500</text>
<line x1="1056.8" y1="678.4" x2="1066.4" y2="678.4" stroke="#000" stroke-width="3"/>
<text x="1050.6" y="686.2" font-size="22" text-anchor="end" font-weight="bold" fill="#111" textLength="47.5" lengthAdjust="spacingAndGlyphs" xml:space="preserve">2000</text>
<line x1="1066.4" y1="1010.2" x2="1066.4" y2="1019.3" stroke="#000" stroke-width="3"/>
<text x="1066.4" y="1045" font-size="22" text-anchor="middle" font-weight="bold" fill="#111" textLength="23.5" lengthAdjust="spacingAndGlyphs" xml:space="preserve">10</text>
<line x1="1190.4" y1="1010.2" x2="1190.4" y2="1019.3" stroke="#000" stroke-width="3"/>
<text x="1190.4" y="1045" font-size="22" text-anchor="middle" font-weight="bold" fill="#111" textLength="23.5" lengthAdjust="spacingAndGlyphs" xml:space="preserve">12</text>
<line x1="1314.4" y1="1010.2" x2="1314.4" y2="1019.3" stroke="#000" stroke-width="3"/>
<text x="1314.4" y="1045" font-size="22" text-anchor="middle" font-weight="bold" fill="#111" textLength="23.5" lengthAdjust="spacingAndGlyphs" xml:space="preserve">14</text>
<line x1="1438.4" y1="1010.2" x2="1438.4" y2="1019.3" stroke="#000" stroke-width="3"/>
<text x="1438.4" y="1045" font-size="22" text-anchor="middle" font-weight="bold" fill="#111" textLength="23.5" lengthAdjust="spacingAndGlyphs" xml:space="preserve">16</text>
<line x1="1562.4" y1="1010.2" x2="1562.4" y2="1019.3" stroke="#000" stroke-width="3"/>
<text x="1562.4" y="1045" font-size="22" text-anchor="middle" font-weight="bold" fill="#111" textLength="23.5" lengthAdjust="spacingAndGlyphs" xml:space="preserve">18</text>
<text x="1314.4" y="1077.9" font-size="26" text-anchor="middle" font-weight="bold" fill="#111" textLength="229.6" lengthAdjust="spacingAndGlyphs" xml:space="preserve">days post-implant</text>
<text font-size="25.5" text-anchor="middle" font-weight="bold" fill="#111" textLength="239.5" lengthAdjust="spacingAndGlyphs" transform="translate(939.8 846.4) rotate(-90)" xml:space="preserve">Tumor Volume (mm<tspan font-size="16" dy="-10">3</tspan><tspan dy="10">)</tspan></text>
<text font-size="25.5" text-anchor="middle" font-weight="bold" fill="#111" textLength="142.3" lengthAdjust="spacingAndGlyphs" transform="translate(973.3 848.1) rotate(-90)" xml:space="preserve">mean ± SEM</text>
<line x1="1252.4" y1="896.06" x2="1252.4" y2="943.84" stroke="#000" stroke-width="4.8"/>
<line x1="1246.15" y1="896.06" x2="1258.65" y2="896.06" stroke="#000" stroke-width="4"/>
<line x1="1246.15" y1="943.84" x2="1258.65" y2="943.84" stroke="#000" stroke-width="4"/>
<line x1="1500.4" y1="709.59" x2="1500.4" y2="826.88" stroke="#000" stroke-width="4.8"/>
<line x1="1494.15" y1="709.59" x2="1506.65" y2="709.59" stroke="#000" stroke-width="4"/>
<line x1="1494.15" y1="826.88" x2="1506.65" y2="826.88" stroke="#000" stroke-width="4"/>
<circle cx="1066.4" cy="970.88" r="6" fill="#fff" stroke="#000" stroke-width="3.8"/>
<circle cx="1252.4" cy="919.78" r="6" fill="#fff" stroke="#000" stroke-width="3.8"/>
<circle cx="1500.4" cy="767.99" r="6" fill="#fff" stroke="#000" stroke-width="3.8"/>
<polyline points="1066.4,970.88 1252.4,919.78 1500.4,767.99" fill="none" stroke="#000" stroke-width="3" stroke-linejoin="round"/>
<line x1="1252.4" y1="937.54" x2="1252.4" y2="955.45" stroke="#1e8a1e" stroke-width="4.8"/>
<line x1="1246.15" y1="937.54" x2="1258.65" y2="937.54" stroke="#1e8a1e" stroke-width="4"/>
<line x1="1246.15" y1="955.45" x2="1258.65" y2="955.45" stroke="#1e8a1e" stroke-width="4"/>
<line x1="1500.4" y1="826.88" x2="1500.4" y2="892.08" stroke="#1e8a1e" stroke-width="4.8"/>
<line x1="1494.15" y1="826.88" x2="1506.65" y2="826.88" stroke="#1e8a1e" stroke-width="4"/>
<line x1="1494.15" y1="892.08" x2="1506.65" y2="892.08" stroke="#1e8a1e" stroke-width="4"/>
<rect x="1061.8" y="966.28" width="9.2" height="9.2" rx="2.53" fill="#fff" stroke="#1e8a1e" stroke-width="3.8"/>
<rect x="1247.8" y="941.56" width="9.2" height="9.2" rx="2.53" fill="#fff" stroke="#1e8a1e" stroke-width="3.8"/>
<rect x="1495.8" y="855.29" width="9.2" height="9.2" rx="2.53" fill="#fff" stroke="#1e8a1e" stroke-width="3.8"/>
<polyline points="1066.4,970.88 1252.4,946.16 1500.4,859.89" fill="none" stroke="#1e8a1e" stroke-width="3" stroke-linejoin="round"/>
<polygon points="1066.4,965.59 1071.58,974.71 1061.22,974.71" fill="#fff" stroke="#22c022" stroke-width="3.2"/>
<polygon points="1252.4,967.91 1257.58,977.03 1247.22,977.03" fill="#fff" stroke="#22c022" stroke-width="3.2"/>
<polygon points="1500.4,987.99 1505.58,997.11 1495.22,997.11" fill="#fff" stroke="#22c022" stroke-width="3.2"/>
<polyline points="1066.4,970.88 1252.4,973.2 1500.4,993.28" fill="none" stroke="#22c022" stroke-width="3" stroke-linejoin="round"/>
<polyline points="1066.4,970.88 1252.4,976.69 1500.4,1006.05" fill="none" stroke="#5aa8ee" stroke-width="3" stroke-linejoin="round"/>
<polygon points="1066.4,963.94 1073.2,975.91 1059.6,975.91" fill="#5aa8ee"/>
<polygon points="1252.4,969.75 1259.2,981.72 1245.6,981.72" fill="#5aa8ee"/>
<polygon points="1500.4,999.11 1507.2,1011.08 1493.6,1011.08" fill="#5aa8ee"/>
<polyline points="1066.4,970.88 1252.4,977.35 1500.4,1006.88" fill="none" stroke="#1414e0" stroke-width="3" stroke-linejoin="round"/>
<polygon points="1066.4,963.94 1073.2,975.91 1059.6,975.91" fill="#1414e0"/>
<polygon points="1252.4,970.41 1259.2,982.38 1245.6,982.38" fill="#1414e0"/>
<polygon points="1500.4,999.94 1507.2,1011.91 1493.6,1011.91" fill="#1414e0"/>
<polyline points="1066.4,970.88 1252.4,985.98 1500.4,1003.23" fill="none" stroke="#ee1c24" stroke-width="3" stroke-linejoin="round"/>
<rect x="1059.6" y="964.08" width="13.6" height="13.6" fill="#ee1c24"/>
<rect x="1245.6" y="979.18" width="13.6" height="13.6" fill="#ee1c24"/>
<rect x="1493.6" y="996.43" width="13.6" height="13.6" fill="#ee1c24"/>
<circle cx="1599" cy="727.6" r="5.8" fill="#fff" stroke="#000" stroke-width="3.6"/>
<line x1="1582.4" y1="727.6" x2="1615.8" y2="727.6" stroke="#000" stroke-width="3.4"/>
<text x="1637.3" y="736.2" font-size="24" font-weight="bold" fill="#111" textLength="83.4" lengthAdjust="spacingAndGlyphs" xml:space="preserve">Vehicle</text>
<rect x="1594.6" y="761.2" width="8.8" height="8.8" rx="2.42" fill="#fff" stroke="#1e8a1e" stroke-width="3.6"/>
<line x1="1582.4" y1="765.6" x2="1615.8" y2="765.6" stroke="#1e8a1e" stroke-width="3.4"/>
<text x="1637.3" y="774.2" font-size="24" font-weight="bold" fill="#111" textLength="240.9" lengthAdjust="spacingAndGlyphs" xml:space="preserve">ABL001 (3mg/kg BID)</text>
<polygon points="1599,799.11 1604.18,808.23 1593.82,808.23" fill="#fff" stroke="#22c022" stroke-width="3.2"/>
<line x1="1582.4" y1="804.4" x2="1615.8" y2="804.4" stroke="#22c022" stroke-width="3.4"/>
<text x="1637.3" y="813" font-size="24" font-weight="bold" fill="#111" textLength="261.2" lengthAdjust="spacingAndGlyphs" xml:space="preserve">ABL001 (7.5mg/kg BID)</text>
<line x1="1582.4" y1="841.7" x2="1615.8" y2="841.7" stroke="#5aa8ee" stroke-width="3.4"/>
<polygon points="1599,834.76 1605.8,846.73 1592.2,846.73" fill="#5aa8ee"/>
<text x="1637.3" y="850.3" font-size="24" font-weight="bold" fill="#111" textLength="254.3" lengthAdjust="spacingAndGlyphs" xml:space="preserve">ABL001 (15mg/kg BID)</text>
<line x1="1582.4" y1="879.3" x2="1615.8" y2="879.3" stroke="#1414e0" stroke-width="3.4"/>
<polygon points="1599,872.36 1605.8,884.33 1592.2,884.33" fill="#1414e0"/>
<text x="1637.3" y="887.9" font-size="24" font-weight="bold" fill="#111" textLength="254.3" lengthAdjust="spacingAndGlyphs" xml:space="preserve">ABL001 (30mg/kg BID)</text>
<line x1="1582.4" y1="917.4" x2="1615.8" y2="917.4" stroke="#ee1c24" stroke-width="3.4"/>
<rect x="1592.5" y="910.9" width="13" height="13" fill="#ee1c24"/>
<text x="1637.3" y="926" font-size="24" font-weight="bold" fill="#111" textLength="264" lengthAdjust="spacingAndGlyphs" xml:space="preserve">Nilotinib (75mg/kg BID)</text>
<line x1="1067.7" y1="1152.5" x2="1067.7" y2="1490.7" stroke="#000" stroke-width="3.6"/>
<line x1="1057.5" y1="1489" x2="1571" y2="1489" stroke="#000" stroke-width="3.4"/>
<text x="1053.7" y="1496.9" font-size="22" text-anchor="end" font-weight="bold" fill="#111" textLength="12" lengthAdjust="spacing" xml:space="preserve">0</text>
<line x1="1057.5" y1="1436.7" x2="1067.7" y2="1436.7" stroke="#000" stroke-width="3.2"/>
<text x="1053.7" y="1444.6" font-size="22" text-anchor="end" font-weight="bold" fill="#111" textLength="37" lengthAdjust="spacing" xml:space="preserve">250</text>
<line x1="1057.5" y1="1384.4" x2="1067.7" y2="1384.4" stroke="#000" stroke-width="3.2"/>
<text x="1053.7" y="1392.3" font-size="22" text-anchor="end" font-weight="bold" fill="#111" textLength="37" lengthAdjust="spacing" xml:space="preserve">500</text>
<line x1="1057.5" y1="1332.1" x2="1067.7" y2="1332.1" stroke="#000" stroke-width="3.2"/>
<text x="1053.7" y="1340" font-size="22" text-anchor="end" font-weight="bold" fill="#111" textLength="37" lengthAdjust="spacing" xml:space="preserve">750</text>
<line x1="1057.5" y1="1279.8" x2="1067.7" y2="1279.8" stroke="#000" stroke-width="3.2"/>
<text x="1053.7" y="1287.7" font-size="22" text-anchor="end" font-weight="bold" fill="#111" textLength="49.5" lengthAdjust="spacing" xml:space="preserve">1000</text>
<line x1="1057.5" y1="1227.5" x2="1067.7" y2="1227.5" stroke="#000" stroke-width="3.2"/>
<text x="1053.7" y="1235.4" font-size="22" text-anchor="end" font-weight="bold" fill="#111" textLength="49.5" lengthAdjust="spacing" xml:space="preserve">1250</text>
<line x1="1057.5" y1="1175.2" x2="1067.7" y2="1175.2" stroke="#000" stroke-width="3.2"/>
<text x="1053.7" y="1183.1" font-size="22" text-anchor="end" font-weight="bold" fill="#111" textLength="49.5" lengthAdjust="spacing" xml:space="preserve">1500</text>
<line x1="1151.22" y1="1489" x2="1151.22" y2="1498.5" stroke="#000" stroke-width="3.2"/>
<text x="1151.22" y="1524" font-size="22" text-anchor="middle" font-weight="bold" fill="#111" textLength="24.5" lengthAdjust="spacing" xml:space="preserve">10</text>
<line x1="1290.42" y1="1489" x2="1290.42" y2="1498.5" stroke="#000" stroke-width="3.2"/>
<text x="1290.42" y="1524" font-size="22" text-anchor="middle" font-weight="bold" fill="#111" textLength="24.5" lengthAdjust="spacing" xml:space="preserve">15</text>
<line x1="1429.62" y1="1489" x2="1429.62" y2="1498.5" stroke="#000" stroke-width="3.2"/>
<text x="1429.62" y="1524" font-size="22" text-anchor="middle" font-weight="bold" fill="#111" textLength="24.5" lengthAdjust="spacing" xml:space="preserve">20</text>
<line x1="1568.82" y1="1489" x2="1568.82" y2="1498.5" stroke="#000" stroke-width="3.2"/>
<text x="1568.82" y="1524" font-size="22" text-anchor="middle" font-weight="bold" fill="#111" textLength="24.5" lengthAdjust="spacing" xml:space="preserve">25</text>
<text x="1319" y="1558" font-size="26" text-anchor="middle" font-weight="bold" fill="#111" textLength="232" lengthAdjust="spacingAndGlyphs" xml:space="preserve">days post implant</text>
<text font-size="25.5" text-anchor="middle" font-weight="bold" fill="#111" textLength="240.6" lengthAdjust="spacingAndGlyphs" transform="translate(950.7 1323.3) rotate(-90)" xml:space="preserve">Tumor Volume (mm<tspan font-size="16" dy="-10">3</tspan><tspan dy="10">)</tspan></text>
<text font-size="25.5" text-anchor="middle" font-weight="bold" fill="#111" textLength="163.5" lengthAdjust="spacingAndGlyphs" transform="translate(983.9 1322.5) rotate(-90)" xml:space="preserve">(Mean ± SEM)</text>
<polyline points="1067.7,1457.62 1179.06,1457.62 1262.58,1454.48 1373.94,1458.04 1457.46,1464.52 1540.98,1461.18" fill="none" stroke="#5aa8ee" stroke-width="3" stroke-linejoin="round"/>
<polygon points="1067.7,1464.89 1074.83,1452.35 1060.57,1452.35" fill="#5aa8ee"/>
<polygon points="1179.06,1464.89 1186.19,1452.35 1171.93,1452.35" fill="#5aa8ee"/>
<polygon points="1262.58,1461.76 1269.71,1449.22 1255.45,1449.22" fill="#5aa8ee"/>
<polygon points="1373.94,1465.31 1381.07,1452.77 1366.81,1452.77" fill="#5aa8ee"/>
<polygon points="1457.46,1471.8 1464.59,1459.26 1450.33,1459.26" fill="#5aa8ee"/>
<polygon points="1540.98,1468.45 1548.11,1455.91 1533.85,1455.91" fill="#5aa8ee"/>
<polyline points="1067.7,1457.62 1179.06,1459.71 1262.58,1462.85 1373.94,1468.08 1457.46,1473.94 1540.98,1483.35" fill="none" stroke="#1414e0" stroke-width="3" stroke-linejoin="round"/>
<polygon points="1067.7,1451.18 1073.3,1457.62 1067.7,1464.06 1062.1,1457.62" fill="#1414e0"/>
<polygon points="1179.06,1453.27 1184.66,1459.71 1179.06,1466.15 1173.46,1459.71" fill="#1414e0"/>
<polygon points="1262.58,1456.41 1268.18,1462.85 1262.58,1469.29 1256.98,1462.85" fill="#1414e0"/>
<polygon points="1373.94,1461.64 1379.54,1468.08 1373.94,1474.52 1368.34,1468.08" fill="#1414e0"/>
<polygon points="1457.46,1467.5 1463.06,1473.94 1457.46,1480.38 1451.86,1473.94" fill="#1414e0"/>
<polygon points="1540.98,1476.91 1546.58,1483.35 1540.98,1489.79 1535.38,1483.35" fill="#1414e0"/>
<polyline points="1067.7,1457.62 1179.06,1457.62 1262.58,1447.16 1373.94,1447.79 1457.46,1444.65 1540.98,1437.33" fill="none" stroke="#22c022" stroke-width="3" stroke-linejoin="round"/>
<line x1="1262.58" y1="1440.88" x2="1262.58" y2="1453.44" stroke="#22c022" stroke-width="5"/>
<line x1="1256.33" y1="1440.88" x2="1268.83" y2="1440.88" stroke="#22c022" stroke-width="4.2"/>
<line x1="1256.33" y1="1453.44" x2="1268.83" y2="1453.44" stroke="#22c022" stroke-width="4.2"/>
<line x1="1457.46" y1="1433.35" x2="1457.46" y2="1455.53" stroke="#22c022" stroke-width="5"/>
<line x1="1451.21" y1="1433.35" x2="1463.71" y2="1433.35" stroke="#22c022" stroke-width="4.2"/>
<line x1="1451.21" y1="1455.53" x2="1463.71" y2="1455.53" stroke="#22c022" stroke-width="4.2"/>
<line x1="1540.98" y1="1420.59" x2="1540.98" y2="1453.85" stroke="#22c022" stroke-width="5"/>
<line x1="1534.73" y1="1420.59" x2="1547.23" y2="1420.59" stroke="#22c022" stroke-width="4.2"/>
<line x1="1534.73" y1="1453.85" x2="1547.23" y2="1453.85" stroke="#22c022" stroke-width="4.2"/>
<polygon points="1067.7,1450.57 1074.61,1462.73 1060.79,1462.73" fill="#22c022"/>
<polygon points="1179.06,1450.57 1185.97,1462.73 1172.15,1462.73" fill="#22c022"/>
<polygon points="1262.58,1440.11 1269.49,1452.27 1255.67,1452.27" fill="#22c022"/>
<polygon points="1373.94,1440.73 1380.85,1452.89 1367.03,1452.89" fill="#22c022"/>
<polygon points="1457.46,1437.6 1464.37,1449.76 1450.55,1449.76" fill="#22c022"/>
<polygon points="1540.98,1430.27 1547.89,1442.43 1534.07,1442.43" fill="#22c022"/>
<polyline points="1067.7,1457.62 1179.06,1455.53 1262.58,1435.03 1373.94,1400.09 1457.46,1362.43" fill="none" stroke="#1e8a1e" stroke-width="3" stroke-linejoin="round"/>
<line x1="1262.58" y1="1426.24" x2="1262.58" y2="1444.02" stroke="#1e8a1e" stroke-width="5"/>
<line x1="1256.33" y1="1426.24" x2="1268.83" y2="1426.24" stroke="#1e8a1e" stroke-width="4.2"/>
<line x1="1256.33" y1="1444.02" x2="1268.83" y2="1444.02" stroke="#1e8a1e" stroke-width="4.2"/>
<line x1="1373.94" y1="1365.57" x2="1373.94" y2="1433.56" stroke="#1e8a1e" stroke-width="5"/>
<line x1="1367.69" y1="1365.57" x2="1380.19" y2="1365.57" stroke="#1e8a1e" stroke-width="4.2"/>
<line x1="1367.69" y1="1433.56" x2="1380.19" y2="1433.56" stroke="#1e8a1e" stroke-width="4.2"/>
<line x1="1457.46" y1="1303.23" x2="1457.46" y2="1422.47" stroke="#1e8a1e" stroke-width="5"/>
<line x1="1451.21" y1="1303.23" x2="1463.71" y2="1303.23" stroke="#1e8a1e" stroke-width="4.2"/>
<line x1="1451.21" y1="1422.47" x2="1463.71" y2="1422.47" stroke="#1e8a1e" stroke-width="4.2"/>
<rect x="1062.3" y="1452.22" width="10.8" height="10.8" fill="#1e8a1e"/>
<rect x="1173.66" y="1450.13" width="10.8" height="10.8" fill="#1e8a1e"/>
<rect x="1257.18" y="1429.63" width="10.8" height="10.8" fill="#1e8a1e"/>
<rect x="1368.54" y="1394.69" width="10.8" height="10.8" fill="#1e8a1e"/>
<rect x="1452.06" y="1357.03" width="10.8" height="10.8" fill="#1e8a1e"/>
<line x1="1179.06" y1="1402.39" x2="1179.06" y2="1451.76" stroke="#000" stroke-width="5"/>
<line x1="1172.81" y1="1402.39" x2="1185.31" y2="1402.39" stroke="#000" stroke-width="4.2"/>
<line x1="1172.81" y1="1451.76" x2="1185.31" y2="1451.76" stroke="#000" stroke-width="4.2"/>
<line x1="1262.58" y1="1335.45" x2="1262.58" y2="1425.61" stroke="#000" stroke-width="5"/>
<line x1="1256.33" y1="1335.45" x2="1268.83" y2="1335.45" stroke="#000" stroke-width="4.2"/>
<line x1="1256.33" y1="1425.61" x2="1268.83" y2="1425.61" stroke="#000" stroke-width="4.2"/>
<line x1="1373.94" y1="1164.32" x2="1373.94" y2="1355.74" stroke="#000" stroke-width="5"/>
<line x1="1367.69" y1="1164.32" x2="1380.19" y2="1164.32" stroke="#000" stroke-width="4.2"/>
<line x1="1367.69" y1="1355.74" x2="1380.19" y2="1355.74" stroke="#000" stroke-width="4.2"/>
<circle cx="1067.7" cy="1457.62" r="5.9" fill="#fff" stroke="#000" stroke-width="4.4"/>
<circle cx="1067.7" cy="1457.62" r="3.6" fill="#1e8a1e"/>
<circle cx="1179.06" cy="1427.08" r="5.9" fill="#fff" stroke="#000" stroke-width="4.4"/>
<circle cx="1262.58" cy="1381.05" r="5.9" fill="#fff" stroke="#000" stroke-width="4.4"/>
<circle cx="1373.94" cy="1261.81" r="5.9" fill="#fff" stroke="#000" stroke-width="4.4"/>
<polyline points="1067.7,1457.62 1179.06,1427.08 1262.58,1381.05 1373.94,1261.81" fill="none" stroke="#000" stroke-width="3" stroke-linejoin="round"/>
<circle cx="1603" cy="1180.6" r="5.8" fill="#fff" stroke="#000" stroke-width="4.4"/>
<line x1="1585.4" y1="1180.6" x2="1620.8" y2="1180.6" stroke="#000" stroke-width="3.2"/>
<text x="1641.7" y="1189.3" font-size="24.7" font-weight="bold" fill="#111" textLength="85.2" lengthAdjust="spacingAndGlyphs" xml:space="preserve">Vehicle</text>
<line x1="1585.4" y1="1219.2" x2="1620.8" y2="1219.2" stroke="#1e8a1e" stroke-width="3.2"/>
<rect x="1598" y="1214.2" width="10" height="10" fill="#1e8a1e"/>
<text x="1641.7" y="1227.9" font-size="24.7" font-weight="bold" fill="#111" textLength="239.6" lengthAdjust="spacingAndGlyphs" xml:space="preserve">ABL001 (3mg/kg QD)</text>
<line x1="1585.4" y1="1258.2" x2="1620.8" y2="1258.2" stroke="#22c022" stroke-width="3.2"/>
<polygon points="1603,1251.37 1609.7,1263.15 1596.3,1263.15" fill="#22c022"/>
<text x="1641.7" y="1266.9" font-size="24.7" font-weight="bold" fill="#111" textLength="259.8" lengthAdjust="spacingAndGlyphs" xml:space="preserve">ABL001 (7.5mg/kg QD)</text>
<line x1="1585.4" y1="1296.8" x2="1620.8" y2="1296.8" stroke="#5aa8ee" stroke-width="3.2"/>
<polygon points="1603,1303.63 1609.7,1291.85 1596.3,1291.85" fill="#5aa8ee"/>
<text x="1643" y="1305.5" font-size="24.7" font-weight="bold" fill="#111" textLength="254.5" lengthAdjust="spacingAndGlyphs" xml:space="preserve">ABL001 (15mg/kg QD)</text>
<line x1="1585.4" y1="1335.4" x2="1620.8" y2="1335.4" stroke="#1414e0" stroke-width="3.2"/>
<polygon points="1603,1328.96 1608.6,1335.4 1603,1341.84 1597.4,1335.4" fill="#1414e0"/>
<text x="1643" y="1344.1" font-size="24.7" font-weight="bold" fill="#111" textLength="254.5" lengthAdjust="spacingAndGlyphs" xml:space="preserve">ABL001 (30mg/kg QD)</text>
</g>
<g id="panel-d">
<text x="375.3" y="1731.2" font-size="25.5" text-anchor="middle" font-weight="bold" fill="#151515" textLength="117.6" lengthAdjust="spacingAndGlyphs" xml:space="preserve">ALL-7015</text>
<text font-size="20.5" text-anchor="middle" fill="#151515" textLength="278" lengthAdjust="spacing" stroke="#151515" stroke-width="0.55" transform="translate(107.8 1902.4) rotate(-90)" xml:space="preserve">% of hCD45 + Cells /Live cells</text>
<text x="374.3" y="2121.7" font-size="21" text-anchor="middle" fill="#151515" textLength="317.5" lengthAdjust="spacing" stroke="#151515" stroke-width="0.3" xml:space="preserve">Days post cells Inoculation(D)</text>
<line x1="171" y1="1764.2" x2="171" y2="2041.3" stroke="#000" stroke-width="2.6"/>
<line x1="162.2" y1="2040" x2="580.3" y2="2040" stroke="#000" stroke-width="2.6"/>
<text x="158.3" y="2047.2" font-size="20" text-anchor="end" fill="#151515" stroke="#151515" stroke-width="0.6" xml:space="preserve">0</text>
<line x1="162.2" y1="1985.24" x2="171" y2="1985.24" stroke="#000" stroke-width="2.6"/>
<text x="158.3" y="1992.44" font-size="20" text-anchor="end" fill="#151515" stroke="#151515" stroke-width="0.6" xml:space="preserve">20</text>
<line x1="162.2" y1="1930.48" x2="171" y2="1930.48" stroke="#000" stroke-width="2.6"/>
<text x="158.3" y="1937.68" font-size="20" text-anchor="end" fill="#151515" stroke="#151515" stroke-width="0.6" xml:space="preserve">40</text>
<line x1="162.2" y1="1875.72" x2="171" y2="1875.72" stroke="#000" stroke-width="2.6"/>
<text x="158.3" y="1882.92" font-size="20" text-anchor="end" fill="#151515" stroke="#151515" stroke-width="0.6" xml:space="preserve">60</text>
<line x1="162.2" y1="1820.96" x2="171" y2="1820.96" stroke="#000" stroke-width="2.6"/>
<text x="158.3" y="1828.16" font-size="20" text-anchor="end" fill="#151515" stroke="#151515" stroke-width="0.6" xml:space="preserve">80</text>
<line x1="162.2" y1="1766.2" x2="171" y2="1766.2" stroke="#000" stroke-width="2.6"/>
<text x="158.3" y="1773.4" font-size="20" text-anchor="end" fill="#151515" stroke="#151515" stroke-width="0.6" xml:space="preserve">100</text>
<line x1="188.3" y1="2040" x2="188.3" y2="2047.4" stroke="#000" stroke-width="2.6"/>
<text font-size="20" text-anchor="end" fill="#151515" stroke="#151515" stroke-width="0.25" transform="translate(191.8 2064.4) rotate(-45)" xml:space="preserve">D24</text>
<line x1="225.61" y1="2040" x2="225.61" y2="2047.4" stroke="#000" stroke-width="2.6"/>
<text font-size="20" text-anchor="end" fill="#151515" stroke="#151515" stroke-width="0.25" transform="translate(229.11 2064.4) rotate(-45)" xml:space="preserve">D31</text>
<line x1="262.92" y1="2040" x2="262.92" y2="2047.4" stroke="#000" stroke-width="2.6"/>
<text font-size="20" text-anchor="end" fill="#151515" stroke="#151515" stroke-width="0.25" transform="translate(266.42 2064.4) rotate(-45)" xml:space="preserve">D37</text>
<line x1="300.23" y1="2040" x2="300.23" y2="2047.4" stroke="#000" stroke-width="2.6"/>
<text font-size="20" text-anchor="end" fill="#151515" stroke="#151515" stroke-width="0.25" transform="translate(303.73 2064.4) rotate(-45)" xml:space="preserve">D45</text>
<line x1="337.54" y1="2040" x2="337.54" y2="2047.4" stroke="#000" stroke-width="2.6"/>
<text font-size="20" text-anchor="end" fill="#151515" stroke="#151515" stroke-width="0.25" transform="translate(341.04 2064.4) rotate(-45)" xml:space="preserve">D52</text>
<line x1="374.85" y1="2040" x2="374.85" y2="2047.4" stroke="#000" stroke-width="2.6"/>
<text font-size="20" text-anchor="end" fill="#151515" stroke="#151515" stroke-width="0.25" transform="translate(378.35 2064.4) rotate(-45)" xml:space="preserve">D59</text>
<line x1="412.16" y1="2040" x2="412.16" y2="2047.4" stroke="#000" stroke-width="2.6"/>
<text font-size="20" text-anchor="end" fill="#151515" stroke="#151515" stroke-width="0.25" transform="translate(415.66 2064.4) rotate(-45)" xml:space="preserve">D66</text>
<line x1="449.47" y1="2040" x2="449.47" y2="2047.4" stroke="#000" stroke-width="2.6"/>
<text font-size="20" text-anchor="end" fill="#151515" stroke="#151515" stroke-width="0.25" transform="translate(452.97 2064.4) rotate(-45)" xml:space="preserve">D73</text>
<line x1="486.78" y1="2040" x2="486.78" y2="2047.4" stroke="#000" stroke-width="2.6"/>
<text font-size="20" text-anchor="end" fill="#151515" stroke="#151515" stroke-width="0.25" transform="translate(490.28 2064.4) rotate(-45)" xml:space="preserve">D80</text>
<line x1="524.09" y1="2040" x2="524.09" y2="2047.4" stroke="#000" stroke-width="2.6"/>
<text font-size="20" text-anchor="end" fill="#151515" stroke="#151515" stroke-width="0.25" transform="translate(527.59 2064.4) rotate(-45)" xml:space="preserve">D87</text>
<line x1="561.4" y1="2040" x2="561.4" y2="2047.4" stroke="#000" stroke-width="2.6"/>
<text font-size="20" text-anchor="end" fill="#151515" stroke="#151515" stroke-width="0.25" transform="translate(564.9 2064.4) rotate(-45)" xml:space="preserve">D94</text>
<polyline points="188.3,2000.85 225.61,1902.28 262.92,1848.89 300.23,1813.29" fill="none" stroke="#ea1a1e" stroke-width="2.3" stroke-linejoin="round"/>
<line x1="225.61" y1="1893.24" x2="225.61" y2="1911.31" stroke="#ea1a1e" stroke-width="4"/>
<line x1="220.61" y1="1893.24" x2="230.61" y2="1893.24" stroke="#ea1a1e" stroke-width="3"/>
<line x1="220.61" y1="1911.31" x2="230.61" y2="1911.31" stroke="#ea1a1e" stroke-width="3"/>
<circle cx="188.3" cy="2000.85" r="6" fill="#ea1a1e"/>
<circle cx="225.61" cy="1902.28" r="6" fill="#ea1a1e"/>
<circle cx="262.92" cy="1848.89" r="6" fill="#ea1a1e"/>
<circle cx="300.23" cy="1813.29" r="6" fill="#ea1a1e"/>
<rect x="183" y="1953.3" width="114.9" height="23.4" fill="#f6c29c" stroke="#cf6f22" stroke-width="3"/>
<text x="240.3" y="1972.2" font-size="18.5" text-anchor="middle" font-weight="bold" textLength="73" lengthAdjust="spacingAndGlyphs" stroke="#000" stroke-width="0.4" xml:space="preserve">ABL001</text>
<polyline points="188.3,2000.3 225.61,2034.52 262.92,2038.9 300.23,2038.63 337.54,2038.36 374.85,2038.63 412.16,2037.26 449.47,2028.23 486.78,1955.67 524.09,1895.98 561.4,1861.48" fill="none" stroke="#22b422" stroke-width="2.3" stroke-linejoin="round"/>
<line x1="449.47" y1="2018.1" x2="449.47" y2="2037.26" stroke="#22b422" stroke-width="4"/>
<line x1="444.47" y1="2018.1" x2="454.47" y2="2018.1" stroke="#22b422" stroke-width="3"/>
<line x1="444.47" y1="2037.26" x2="454.47" y2="2037.26" stroke="#22b422" stroke-width="3"/>
<line x1="486.78" y1="1933.22" x2="486.78" y2="1977.03" stroke="#22b422" stroke-width="4"/>
<line x1="481.78" y1="1933.22" x2="491.78" y2="1933.22" stroke="#22b422" stroke-width="3"/>
<line x1="481.78" y1="1977.03" x2="491.78" y2="1977.03" stroke="#22b422" stroke-width="3"/>
<line x1="524.09" y1="1866.68" x2="524.09" y2="1923.63" stroke="#22b422" stroke-width="4"/>
<line x1="519.09" y1="1866.68" x2="529.09" y2="1866.68" stroke="#22b422" stroke-width="3"/>
<line x1="519.09" y1="1923.63" x2="529.09" y2="1923.63" stroke="#22b422" stroke-width="3"/>
<line x1="561.4" y1="1812.2" x2="561.4" y2="1907.75" stroke="#22b422" stroke-width="4"/>
<line x1="556.4" y1="1812.2" x2="566.4" y2="1812.2" stroke="#22b422" stroke-width="3"/>
<line x1="556.4" y1="1907.75" x2="566.4" y2="1907.75" stroke="#22b422" stroke-width="3"/>
<rect x="182.8" y="1994.8" width="11" height="11" fill="#22b422"/>
<rect x="220.11" y="2029.02" width="11" height="11" fill="#22b422"/>
<rect x="257.42" y="2033.4" width="11" height="11" fill="#22b422"/>
<rect x="294.73" y="2033.13" width="11" height="11" fill="#22b422"/>
<rect x="332.04" y="2032.86" width="11" height="11" fill="#22b422"/>
<rect x="369.35" y="2033.13" width="11" height="11" fill="#22b422"/>
<rect x="406.66" y="2031.76" width="11" height="11" fill="#22b422"/>
<rect x="443.97" y="2022.73" width="11" height="11" fill="#22b422"/>
<rect x="481.28" y="1950.17" width="11" height="11" fill="#22b422"/>
<rect x="518.59" y="1890.48" width="11" height="11" fill="#22b422"/>
<rect x="555.9" y="1855.98" width="11" height="11" fill="#22b422"/>
<polyline points="188.3,2002.76 225.61,2033.7 262.92,2033.15 300.23,2035.89 337.54,2037.81 374.85,2039.18 412.16,2039.18 449.47,2039.45 486.78,2028.23 524.09,1966.9 561.4,1878.73" fill="none" stroke="#1414dc" stroke-width="2.3" stroke-linejoin="round"/>
<line x1="524.09" y1="1944.72" x2="524.09" y2="1985.51" stroke="#1414dc" stroke-width="4"/>
<line x1="519.09" y1="1944.72" x2="529.09" y2="1944.72" stroke="#1414dc" stroke-width="3"/>
<line x1="519.09" y1="1985.51" x2="529.09" y2="1985.51" stroke="#1414dc" stroke-width="3"/>
<line x1="561.4" y1="1848.89" x2="561.4" y2="1904.47" stroke="#1414dc" stroke-width="4"/>
<line x1="556.4" y1="1848.89" x2="566.4" y2="1848.89" stroke="#1414dc" stroke-width="3"/>
<line x1="556.4" y1="1904.47" x2="566.4" y2="1904.47" stroke="#1414dc" stroke-width="3"/>
<polygon points="188.3,1996.59 194.35,2007.23 182.25,2007.23" fill="#1414dc"/>
<polygon points="225.61,2027.53 231.66,2038.17 219.56,2038.17" fill="#1414dc"/>
<polygon points="262.92,2026.98 268.97,2037.62 256.87,2037.62" fill="#1414dc"/>
<polygon points="300.23,2029.72 306.28,2040.36 294.18,2040.36" fill="#1414dc"/>
<polygon points="337.54,2031.64 343.59,2042.28 331.49,2042.28" fill="#1414dc"/>
<polygon points="374.85,2033.01 380.9,2043.65 368.8,2043.65" fill="#1414dc"/>
<polygon points="412.16,2033.01 418.21,2043.65 406.11,2043.65" fill="#1414dc"/>
<polygon points="449.47,2033.28 455.52,2043.92 443.42,2043.92" fill="#1414dc"/>
<polygon points="486.78,2022.06 492.83,2032.7 480.73,2032.7" fill="#1414dc"/>
<polygon points="524.09,1960.72 530.14,1971.36 518.04,1971.36" fill="#1414dc"/>
<polygon points="561.4,1872.56 567.45,1883.2 555.35,1883.2" fill="#1414dc"/>
<text x="960" y="1738.8" font-size="26" text-anchor="middle" font-weight="bold" fill="#151515" textLength="102.5" lengthAdjust="spacingAndGlyphs" xml:space="preserve">AL-7119</text>
<text font-size="22" text-anchor="middle" fill="#151515" textLength="295.5" lengthAdjust="spacing" stroke="#151515" stroke-width="0.6" transform="translate(700.6 1906.3) rotate(-90)" xml:space="preserve">% of CD45 + Cells/Live cells</text>
<text x="960.5" y="2115.4" font-size="22" text-anchor="middle" fill="#151515" textLength="279" lengthAdjust="spacing" stroke="#151515" stroke-width="0.3" xml:space="preserve">Days Post Cell inoculation</text>
<line x1="749.6" y1="1769.9" x2="749.6" y2="2045" stroke="#000" stroke-width="2.6"/>
<line x1="740.8" y1="2043.7" x2="1174" y2="2043.7" stroke="#000" stroke-width="2.6"/>
<text x="736" y="2049.7" font-size="18.5" text-anchor="end" fill="#151515" stroke="#151515" stroke-width="0.6" xml:space="preserve">0</text>
<line x1="740.8" y1="1989.2" x2="749.6" y2="1989.2" stroke="#000" stroke-width="2.6"/>
<text x="736" y="1995.2" font-size="18.5" text-anchor="end" fill="#151515" textLength="21.6" lengthAdjust="spacing" stroke="#151515" stroke-width="0.6" xml:space="preserve">10</text>
<line x1="740.8" y1="1934.7" x2="749.6" y2="1934.7" stroke="#000" stroke-width="2.6"/>
<text x="736" y="1940.7" font-size="18.5" text-anchor="end" fill="#151515" textLength="21.6" lengthAdjust="spacing" stroke="#151515" stroke-width="0.6" xml:space="preserve">20</text>
<line x1="740.8" y1="1880.2" x2="749.6" y2="1880.2" stroke="#000" stroke-width="2.6"/>
<text x="736" y="1886.2" font-size="18.5" text-anchor="end" fill="#151515" textLength="21.6" lengthAdjust="spacing" stroke="#151515" stroke-width="0.6" xml:space="preserve">30</text>
<line x1="740.8" y1="1825.7" x2="749.6" y2="1825.7" stroke="#000" stroke-width="2.6"/>
<text x="736" y="1831.7" font-size="18.5" text-anchor="end" fill="#151515" textLength="21.6" lengthAdjust="spacing" stroke="#151515" stroke-width="0.6" xml:space="preserve">40</text>
<line x1="740.8" y1="1771.2" x2="749.6" y2="1771.2" stroke="#000" stroke-width="2.6"/>
<text x="736" y="1777.2" font-size="18.5" text-anchor="end" fill="#151515" textLength="21.6" lengthAdjust="spacing" stroke="#151515" stroke-width="0.6" xml:space="preserve">50</text>
<line x1="876.02" y1="2043.7" x2="876.02" y2="2051.2" stroke="#000" stroke-width="2.6"/>
<text font-size="20" text-anchor="end" fill="#151515" stroke="#151515" stroke-width="0.4" transform="translate(879.02 2056.8) rotate(-90)" xml:space="preserve">94</text>
<line x1="1017.17" y1="2043.7" x2="1017.17" y2="2051.2" stroke="#000" stroke-width="2.6"/>
<text font-size="20" text-anchor="end" fill="#151515" stroke="#151515" stroke-width="0.4" transform="translate(1020.17 2056.8) rotate(-90)" xml:space="preserve">127</text>
<line x1="1158.32" y1="2043.7" x2="1158.32" y2="2051.2" stroke="#000" stroke-width="2.6"/>
<text font-size="20" text-anchor="end" fill="#151515" stroke="#151515" stroke-width="0.4" transform="translate(1161.32 2056.8) rotate(-90)" xml:space="preserve">162</text>
<polyline points="763.1,2000.1 791.33,1939.61" fill="none" stroke="#ea1a1e" stroke-width="2.3" stroke-linejoin="round"/>
<line x1="791.33" y1="1883.47" x2="791.33" y2="1995.74" stroke="#ea1a1e" stroke-width="4"/>
<line x1="786.33" y1="1883.47" x2="796.33" y2="1883.47" stroke="#ea1a1e" stroke-width="3"/>
<line x1="786.33" y1="1995.74" x2="796.33" y2="1995.74" stroke="#ea1a1e" stroke-width="3"/>
<circle cx="763.1" cy="2000.1" r="5.8" fill="#ea1a1e"/>
<circle cx="791.33" cy="1939.61" r="5.8" fill="#ea1a1e"/>
<polyline points="763.1,2002.83 791.33,2020.27 819.56,2042.07 847.79,2042.07 876.02,2042.61 904.25,2043.7 932.48,2043.7 960.71,2038.8 988.94,2040.43 1017.17,2022.44 1045.4,2030.62 1073.63,2028.99 1101.86,2020.27 1130.09,2008.28 1158.32,1908.54" fill="none" stroke="#22b422" stroke-width="2.3" stroke-linejoin="round"/>
<line x1="763.1" y1="1993.56" x2="763.1" y2="2017" stroke="#22b422" stroke-width="4"/>
<line x1="758.1" y1="1993.56" x2="768.1" y2="1993.56" stroke="#22b422" stroke-width="3"/>
<line x1="758.1" y1="2017" x2="768.1" y2="2017" stroke="#22b422" stroke-width="3"/>
<line x1="1017.17" y1="2011" x2="1017.17" y2="2033.89" stroke="#22b422" stroke-width="4"/>
<line x1="1012.17" y1="2011" x2="1022.17" y2="2011" stroke="#22b422" stroke-width="3"/>
<line x1="1012.17" y1="2033.89" x2="1022.17" y2="2033.89" stroke="#22b422" stroke-width="3"/>
<line x1="1101.86" y1="2014.82" x2="1101.86" y2="2026.26" stroke="#22b422" stroke-width="4"/>
<line x1="1096.86" y1="2014.82" x2="1106.86" y2="2014.82" stroke="#22b422" stroke-width="3"/>
<line x1="1096.86" y1="2026.26" x2="1106.86" y2="2026.26" stroke="#22b422" stroke-width="3"/>
<line x1="1130.09" y1="1975.58" x2="1130.09" y2="2042.07" stroke="#22b422" stroke-width="4"/>
<line x1="1125.09" y1="1975.58" x2="1135.09" y2="1975.58" stroke="#22b422" stroke-width="3"/>
<line x1="1125.09" y1="2042.07" x2="1135.09" y2="2042.07" stroke="#22b422" stroke-width="3"/>
<line x1="1158.32" y1="1795.18" x2="1158.32" y2="2020.81" stroke="#22b422" stroke-width="4"/>
<line x1="1153.32" y1="1795.18" x2="1163.32" y2="1795.18" stroke="#22b422" stroke-width="3"/>
<line x1="1153.32" y1="2020.81" x2="1163.32" y2="2020.81" stroke="#22b422" stroke-width="3"/>
<rect x="757.6" y="1997.33" width="11" height="11" fill="#22b422"/>
<rect x="785.83" y="2014.77" width="11" height="11" fill="#22b422"/>
<rect x="814.06" y="2036.57" width="11" height="11" fill="#22b422"/>
<rect x="842.29" y="2036.57" width="11" height="11" fill="#22b422"/>
<rect x="870.52" y="2037.11" width="11" height="11" fill="#22b422"/>
<rect x="898.75" y="2038.2" width="11" height="11" fill="#22b422"/>
<rect x="926.98" y="2038.2" width="11" height="11" fill="#22b422"/>
<rect x="955.21" y="2033.3" width="11" height="11" fill="#22b422"/>
<rect x="983.44" y="2034.93" width="11" height="11" fill="#22b422"/>
<rect x="1011.67" y="2016.94" width="11" height="11" fill="#22b422"/>
<rect x="1039.9" y="2025.12" width="11" height="11" fill="#22b422"/>
<rect x="1068.13" y="2023.49" width="11" height="11" fill="#22b422"/>
<rect x="1096.36" y="2014.77" width="11" height="11" fill="#22b422"/>
<rect x="1124.59" y="2002.78" width="11" height="11" fill="#22b422"/>
<rect x="1152.82" y="1903.04" width="11" height="11" fill="#22b422"/>
<polyline points="763.1,2005.55 791.33,2026.26 819.56,2043.7 847.79,2042.07 876.02,2042.61 904.25,2043.7 932.48,2043.7 960.71,2043.15 988.94,2043.7 1017.17,2044.79 1045.4,2042.61 1073.63,2024.08 1101.86,2037.16 1130.09,2040.98 1158.32,2041.52" fill="none" stroke="#1414dc" stroke-width="2.3" stroke-linejoin="round"/>
<line x1="763.1" y1="1990.84" x2="763.1" y2="2014.82" stroke="#1414dc" stroke-width="4"/>
<line x1="758.1" y1="1990.84" x2="768.1" y2="1990.84" stroke="#1414dc" stroke-width="3"/>
<line x1="758.1" y1="2014.82" x2="768.1" y2="2014.82" stroke="#1414dc" stroke-width="3"/>
<line x1="1073.63" y1="2001.19" x2="1073.63" y2="2043.7" stroke="#1414dc" stroke-width="4"/>
<line x1="1068.63" y1="2001.19" x2="1078.63" y2="2001.19" stroke="#1414dc" stroke-width="3"/>
<line x1="1068.63" y1="2043.7" x2="1078.63" y2="2043.7" stroke="#1414dc" stroke-width="3"/>
<polygon points="763.1,1999.38 769.15,2010.02 757.05,2010.02" fill="#1414dc"/>
<polygon points="791.33,2020.09 797.38,2030.73 785.28,2030.73" fill="#1414dc"/>
<polygon points="819.56,2037.53 825.61,2048.17 813.51,2048.17" fill="#1414dc"/>
<polygon points="847.79,2035.89 853.84,2046.53 841.74,2046.53" fill="#1414dc"/>
<polygon points="876.02,2036.44 882.07,2047.08 869.97,2047.08" fill="#1414dc"/>
<polygon points="904.25,2037.53 910.3,2048.17 898.2,2048.17" fill="#1414dc"/>
<polygon points="932.48,2037.53 938.53,2048.17 926.43,2048.17" fill="#1414dc"/>
<polygon points="960.71,2036.98 966.76,2047.62 954.66,2047.62" fill="#1414dc"/>
<polygon points="988.94,2037.53 994.99,2048.17 982.89,2048.17" fill="#1414dc"/>
<polygon points="1017.17,2038.62 1023.22,2049.26 1011.12,2049.26" fill="#1414dc"/>
<polygon points="1045.4,2036.44 1051.45,2047.08 1039.35,2047.08" fill="#1414dc"/>
<polygon points="1073.63,2017.91 1079.68,2028.55 1067.58,2028.55" fill="#1414dc"/>
<polygon points="1101.86,2030.99 1107.91,2041.63 1095.81,2041.63" fill="#1414dc"/>
<polygon points="1130.09,2034.8 1136.14,2045.44 1124.04,2045.44" fill="#1414dc"/>
<polygon points="1158.32,2035.35 1164.37,2045.99 1152.27,2045.99" fill="#1414dc"/>
<rect x="759.4" y="1964" width="115.5" height="23.6" fill="#f6c29c" stroke="#cf6f22" stroke-width="3"/>
<text x="816.2" y="1983.2" font-size="18.5" text-anchor="middle" font-weight="bold" textLength="71.4" lengthAdjust="spacingAndGlyphs" stroke="#000" stroke-width="0.4" xml:space="preserve">ABL 001</text>
<text x="1537" y="1731.9" font-size="25.5" text-anchor="middle" font-weight="bold" fill="#151515" textLength="100.5" lengthAdjust="spacing" xml:space="preserve">AL-7155</text>
<text font-size="22" text-anchor="middle" fill="#151515" textLength="296" lengthAdjust="spacing" stroke="#151515" stroke-width="0.6" transform="translate(1284.2 1904.5) rotate(-90)" xml:space="preserve">% of CD45 + Cells/Live cells</text>
<text x="1537.4" y="2101.3" font-size="22" text-anchor="middle" fill="#151515" textLength="279.2" lengthAdjust="spacing" stroke="#151515" stroke-width="0.3" xml:space="preserve">Days Post Cell inoculation</text>
<line x1="1333.4" y1="1764.2" x2="1333.4" y2="2045.3" stroke="#000" stroke-width="2.6"/>
<line x1="1324.2" y1="2044" x2="1743" y2="2044" stroke="#000" stroke-width="2.6"/>
<text x="1320.2" y="2050" font-size="18.5" text-anchor="end" fill="#151515" stroke="#151515" stroke-width="0.6" xml:space="preserve">0</text>
<line x1="1324.2" y1="1974.4" x2="1333.4" y2="1974.4" stroke="#000" stroke-width="2.6"/>
<text x="1320.2" y="1980.4" font-size="18.5" text-anchor="end" fill="#151515" textLength="21.6" lengthAdjust="spacing" stroke="#151515" stroke-width="0.6" xml:space="preserve">20</text>
<line x1="1324.2" y1="1904.8" x2="1333.4" y2="1904.8" stroke="#000" stroke-width="2.6"/>
<text x="1320.2" y="1910.8" font-size="18.5" text-anchor="end" fill="#151515" textLength="21.6" lengthAdjust="spacing" stroke="#151515" stroke-width="0.6" xml:space="preserve">40</text>
<line x1="1324.2" y1="1835.2" x2="1333.4" y2="1835.2" stroke="#000" stroke-width="2.6"/>
<text x="1320.2" y="1841.2" font-size="18.5" text-anchor="end" fill="#151515" textLength="21.6" lengthAdjust="spacing" stroke="#151515" stroke-width="0.6" xml:space="preserve">60</text>
<line x1="1324.2" y1="1765.6" x2="1333.4" y2="1765.6" stroke="#000" stroke-width="2.6"/>
<text x="1320.2" y="1771.6" font-size="18.5" text-anchor="end" fill="#151515" textLength="21.6" lengthAdjust="spacing" stroke="#151515" stroke-width="0.6" xml:space="preserve">80</text>
<line x1="1333.4" y1="2044" x2="1333.4" y2="2050.8" stroke="#000" stroke-width="2.6"/>
<text x="1330.9" y="2073.9" font-size="18.5" text-anchor="middle" fill="#151515" textLength="21.5" lengthAdjust="spacing" stroke="#151515" stroke-width="0.6" xml:space="preserve">41</text>
<line x1="1402.4" y1="2044" x2="1402.4" y2="2050.8" stroke="#000" stroke-width="2.6"/>
<text x="1399.9" y="2073.9" font-size="18.5" text-anchor="middle" fill="#151515" textLength="21.5" lengthAdjust="spacing" stroke="#151515" stroke-width="0.6" xml:space="preserve">61</text>
<line x1="1471.4" y1="2044" x2="1471.4" y2="2050.8" stroke="#000" stroke-width="2.6"/>
<text x="1468.9" y="2073.9" font-size="18.5" text-anchor="middle" fill="#151515" textLength="21.5" lengthAdjust="spacing" stroke="#151515" stroke-width="0.6" xml:space="preserve">81</text>
<line x1="1540.4" y1="2044" x2="1540.4" y2="2050.8" stroke="#000" stroke-width="2.6"/>
<text x="1537.9" y="2073.9" font-size="18.5" text-anchor="middle" fill="#151515" textLength="32.5" lengthAdjust="spacing" stroke="#151515" stroke-width="0.6" xml:space="preserve">101</text>
<line x1="1609.4" y1="2044" x2="1609.4" y2="2050.8" stroke="#000" stroke-width="2.6"/>
<text x="1606.9" y="2073.9" font-size="18.5" text-anchor="middle" fill="#151515" textLength="32.5" lengthAdjust="spacing" stroke="#151515" stroke-width="0.6" xml:space="preserve">121</text>
<line x1="1678.4" y1="2044" x2="1678.4" y2="2050.8" stroke="#000" stroke-width="2.6"/>
<text x="1675.9" y="2073.9" font-size="18.5" text-anchor="middle" fill="#151515" textLength="32.5" lengthAdjust="spacing" stroke="#151515" stroke-width="0.6" xml:space="preserve">141</text>
<polyline points="1333.4,2010.94 1360.31,1951.78 1381.36,1858.52 1398.26,1844.94" fill="none" stroke="#ea1a1e" stroke-width="2.3" stroke-linejoin="round"/>
<line x1="1381.36" y1="1848.08" x2="1381.36" y2="1868.61" stroke="#ea1a1e" stroke-width="4"/>
<line x1="1376.36" y1="1848.08" x2="1386.36" y2="1848.08" stroke="#ea1a1e" stroke-width="3"/>
<line x1="1376.36" y1="1868.61" x2="1386.36" y2="1868.61" stroke="#ea1a1e" stroke-width="3"/>
<line x1="1398.26" y1="1837.64" x2="1398.26" y2="1851.9" stroke="#ea1a1e" stroke-width="4"/>
<line x1="1393.26" y1="1837.64" x2="1403.26" y2="1837.64" stroke="#ea1a1e" stroke-width="3"/>
<line x1="1393.26" y1="1851.9" x2="1403.26" y2="1851.9" stroke="#ea1a1e" stroke-width="3"/>
<circle cx="1333.4" cy="2010.94" r="6" fill="#ea1a1e"/>
<circle cx="1360.31" cy="1951.78" r="6" fill="#ea1a1e"/>
<circle cx="1381.36" cy="1858.52" r="6" fill="#ea1a1e"/>
<circle cx="1398.26" cy="1844.94" r="6" fill="#ea1a1e"/>
<rect x="1334.7" y="1969.6" width="78.7" height="23.7" fill="#f6c29c" stroke="#cf6f22" stroke-width="3"/>
<text x="1374.2" y="1988.5" font-size="18.5" text-anchor="middle" font-weight="bold" textLength="72.3" lengthAdjust="spacingAndGlyphs" stroke="#000" stroke-width="0.4" xml:space="preserve">ABL001</text>
<polyline points="1333.4,2010.94 1360.31,2042.96 1381.36,2044 1398.26,2044 1428.62,2044 1449.67,2044 1474.16,2044 1494.52,2044 1518.67,2042.96 1549.72,2032.17 1566.97,2021.73 1604.57,1974.4 1625.27,1909.32" fill="none" stroke="#22b422" stroke-width="2.3" stroke-linejoin="round"/>
<line x1="1549.72" y1="2024.16" x2="1549.72" y2="2039.82" stroke="#22b422" stroke-width="4"/>
<line x1="1544.72" y1="2024.16" x2="1554.72" y2="2024.16" stroke="#22b422" stroke-width="3"/>
<line x1="1544.72" y1="2039.82" x2="1554.72" y2="2039.82" stroke="#22b422" stroke-width="3"/>
<line x1="1566.97" y1="2002.94" x2="1566.97" y2="2040.52" stroke="#22b422" stroke-width="4"/>
<line x1="1561.97" y1="2002.94" x2="1571.97" y2="2002.94" stroke="#22b422" stroke-width="3"/>
<line x1="1561.97" y1="2040.52" x2="1571.97" y2="2040.52" stroke="#22b422" stroke-width="3"/>
<line x1="1604.57" y1="1955.61" x2="1604.57" y2="1993.54" stroke="#22b422" stroke-width="4"/>
<line x1="1599.57" y1="1955.61" x2="1609.57" y2="1955.61" stroke="#22b422" stroke-width="3"/>
<line x1="1599.57" y1="1993.54" x2="1609.57" y2="1993.54" stroke="#22b422" stroke-width="3"/>
<line x1="1625.27" y1="1884.96" x2="1625.27" y2="1933.34" stroke="#22b422" stroke-width="4"/>
<line x1="1620.27" y1="1884.96" x2="1630.27" y2="1884.96" stroke="#22b422" stroke-width="3"/>
<line x1="1620.27" y1="1933.34" x2="1630.27" y2="1933.34" stroke="#22b422" stroke-width="3"/>
<rect x="1327.9" y="2005.44" width="11" height="11" fill="#22b422"/>
<rect x="1354.81" y="2037.46" width="11" height="11" fill="#22b422"/>
<rect x="1375.86" y="2038.5" width="11" height="11" fill="#22b422"/>
<rect x="1392.76" y="2038.5" width="11" height="11" fill="#22b422"/>
<rect x="1423.12" y="2038.5" width="11" height="11" fill="#22b422"/>
<rect x="1444.17" y="2038.5" width="11" height="11" fill="#22b422"/>
<rect x="1468.66" y="2038.5" width="11" height="11" fill="#22b422"/>
<rect x="1489.02" y="2038.5" width="11" height="11" fill="#22b422"/>
<rect x="1513.17" y="2037.46" width="11" height="11" fill="#22b422"/>
<rect x="1544.22" y="2026.67" width="11" height="11" fill="#22b422"/>
<rect x="1561.47" y="2016.23" width="11" height="11" fill="#22b422"/>
<rect x="1599.07" y="1968.9" width="11" height="11" fill="#22b422"/>
<rect x="1619.77" y="1903.82" width="11" height="11" fill="#22b422"/>
<polyline points="1333.4,2014.07 1360.31,2044 1381.36,2044 1398.26,2044 1428.62,2044 1449.67,2044 1474.16,2044 1494.52,2044 1518.67,2044 1549.72,2044 1566.97,2044 1604.57,2044 1625.27,2040.52 1649.77,2010.24 1670.81,1981.71 1698.07,1915.94" fill="none" stroke="#1818b4" stroke-width="2.3" stroke-linejoin="round"/>
<line x1="1649.77" y1="1993.89" x2="1649.77" y2="2024.86" stroke="#1818b4" stroke-width="4"/>
<line x1="1644.77" y1="1993.89" x2="1654.77" y2="1993.89" stroke="#1818b4" stroke-width="3"/>
<line x1="1644.77" y1="2024.86" x2="1654.77" y2="2024.86" stroke="#1818b4" stroke-width="3"/>
<line x1="1670.81" y1="1958.74" x2="1670.81" y2="2003.28" stroke="#1818b4" stroke-width="4"/>
<line x1="1665.81" y1="1958.74" x2="1675.81" y2="1958.74" stroke="#1818b4" stroke-width="3"/>
<line x1="1665.81" y1="2003.28" x2="1675.81" y2="2003.28" stroke="#1818b4" stroke-width="3"/>
<line x1="1698.07" y1="1875.57" x2="1698.07" y2="1951.78" stroke="#1818b4" stroke-width="4"/>
<line x1="1693.07" y1="1875.57" x2="1703.07" y2="1875.57" stroke="#1818b4" stroke-width="3"/>
<line x1="1693.07" y1="1951.78" x2="1703.07" y2="1951.78" stroke="#1818b4" stroke-width="3"/>
<polygon points="1333.4,2007.9 1339.45,2018.54 1327.35,2018.54" fill="#1818b4"/>
<polygon points="1360.31,2037.83 1366.36,2048.47 1354.26,2048.47" fill="#1818b4"/>
<polygon points="1381.36,2037.83 1387.4,2048.47 1375.31,2048.47" fill="#1818b4"/>
<polygon points="1398.26,2037.83 1404.31,2048.47 1392.21,2048.47" fill="#1818b4"/>
<polygon points="1428.62,2037.83 1434.67,2048.47 1422.57,2048.47" fill="#1818b4"/>
<polygon points="1449.67,2037.83 1455.71,2048.47 1443.62,2048.47" fill="#1818b4"/>
<polygon points="1474.16,2037.83 1480.21,2048.47 1468.11,2048.47" fill="#1818b4"/>
<polygon points="1494.52,2037.83 1500.56,2048.47 1488.47,2048.47" fill="#1818b4"/>
<polygon points="1518.67,2037.83 1524.71,2048.47 1512.62,2048.47" fill="#1818b4"/>
<polygon points="1549.72,2037.83 1555.76,2048.47 1543.67,2048.47" fill="#1818b4"/>
<polygon points="1566.97,2037.83 1573.01,2048.47 1560.92,2048.47" fill="#1818b4"/>
<polygon points="1604.57,2037.83 1610.62,2048.47 1598.52,2048.47" fill="#1818b4"/>
<polygon points="1625.27,2034.35 1631.32,2044.99 1619.22,2044.99" fill="#1818b4"/>
<polygon points="1649.77,2004.07 1655.81,2014.71 1643.72,2014.71" fill="#1818b4"/>
<polygon points="1670.81,1975.54 1676.86,1986.18 1664.76,1986.18" fill="#1818b4"/>
<polygon points="1698.07,1909.76 1704.11,1920.4 1692.02,1920.4" fill="#1818b4"/>
<line x1="1727.5" y1="1711.2" x2="1760" y2="1711.2" stroke="#ea1a1e" stroke-width="2.4"/>
<circle cx="1743.8" cy="1711.2" r="6.4" fill="#ea1a1e"/>
<text x="1778.5" y="1718.6" font-size="25.5" fill="#3c3c3c" textLength="182.8" lengthAdjust="spacingAndGlyphs" xml:space="preserve">Group 1 Vehicle</text>
<line x1="1727.5" y1="1747.3" x2="1760" y2="1747.3" stroke="#22b422" stroke-width="2.4"/>
<rect x="1737.6" y="1741.1" width="12.4" height="12.4" fill="#22b422"/>
<text x="1778.5" y="1754.7" font-size="25.5" fill="#3c3c3c" textLength="316.6" lengthAdjust="spacingAndGlyphs" xml:space="preserve">Group 2 ABL001 (7.5mg/kg)</text>
<line x1="1727.5" y1="1782.7" x2="1760" y2="1782.7" stroke="#1818b4" stroke-width="2.4"/>
<polygon points="1743.8,1776.09 1750.28,1787.49 1737.32,1787.49" fill="#1818b4"/>
<text x="1778.5" y="1790.1" font-size="25.5" fill="#3c3c3c" textLength="310.8" lengthAdjust="spacingAndGlyphs" xml:space="preserve">Group 3 ABL001 (30mg/kg)</text>
</g>
<g id="panel-e">
<text font-size="26" text-anchor="middle" font-weight="bold" fill="#111" textLength="289" lengthAdjust="spacing" transform="translate(83.4 2398.3) rotate(-90)" xml:space="preserve">%  Body weight change</text>
<text font-size="26" text-anchor="middle" font-weight="bold" fill="#111" textLength="192" lengthAdjust="spacing" transform="translate(114.9 2399) rotate(-90)" xml:space="preserve">(mean +/- SEM)</text>
<text x="415.5" y="2629.5" font-size="26" text-anchor="middle" font-weight="bold" fill="#111" textLength="290" lengthAdjust="spacing" xml:space="preserve">Days Post Implantation</text>
<line x1="176.9" y1="2367.5" x2="657.7" y2="2367.5" stroke="#000" stroke-width="2.4" stroke-dasharray="2.4 8"/>
<polyline points="172.9,2367.5 185.65,2397.26 226.12,2384.32 253.1,2388.2 320.55,2408.91 347.53,2487.84" fill="none" stroke="#7a1a96" stroke-width="3" stroke-linejoin="round"/>
<line x1="347.53" y1="2436.08" x2="347.53" y2="2540.9" stroke="#7a1a96" stroke-width="3"/>
<line x1="342.53" y1="2436.08" x2="352.53" y2="2436.08" stroke="#7a1a96" stroke-width="2.8"/>
<line x1="342.53" y1="2540.9" x2="352.53" y2="2540.9" stroke="#7a1a96" stroke-width="2.8"/>
<polygon points="172.9,2362.67 177.1,2367.5 172.9,2372.33 168.7,2367.5" fill="#7a1a96"/>
<polygon points="185.65,2392.43 189.85,2397.26 185.65,2402.09 181.45,2397.26" fill="#7a1a96"/>
<polygon points="226.12,2379.49 230.32,2384.32 226.12,2389.15 221.92,2384.32" fill="#7a1a96"/>
<polygon points="253.1,2383.37 257.3,2388.2 253.1,2393.03 248.9,2388.2" fill="#7a1a96"/>
<polygon points="320.55,2404.08 324.75,2408.91 320.55,2413.74 316.35,2408.91" fill="#7a1a96"/>
<polygon points="347.53,2483.01 351.73,2487.84 347.53,2492.67 343.33,2487.84" fill="#7a1a96"/>
<polyline points="172.9,2367.5 185.65,2393.38 226.12,2388.2 253.1,2371.38 320.55,2367.5" fill="none" stroke="#1a8a1a" stroke-width="3" stroke-linejoin="round"/>
<line x1="185.65" y1="2385.62" x2="185.65" y2="2405.03" stroke="#1a8a1a" stroke-width="3"/>
<line x1="180.65" y1="2385.62" x2="190.65" y2="2385.62" stroke="#1a8a1a" stroke-width="2.8"/>
<line x1="180.65" y1="2405.03" x2="190.65" y2="2405.03" stroke="#1a8a1a" stroke-width="2.8"/>
<line x1="226.12" y1="2371.38" x2="226.12" y2="2406.32" stroke="#1a8a1a" stroke-width="3"/>
<line x1="221.12" y1="2371.38" x2="231.12" y2="2371.38" stroke="#1a8a1a" stroke-width="2.8"/>
<line x1="221.12" y1="2406.32" x2="231.12" y2="2406.32" stroke="#1a8a1a" stroke-width="2.8"/>
<line x1="253.1" y1="2354.56" x2="253.1" y2="2388.2" stroke="#1a8a1a" stroke-width="3"/>
<line x1="248.1" y1="2354.56" x2="258.1" y2="2354.56" stroke="#1a8a1a" stroke-width="2.8"/>
<line x1="248.1" y1="2388.2" x2="258.1" y2="2388.2" stroke="#1a8a1a" stroke-width="2.8"/>
<line x1="320.55" y1="2335.67" x2="320.55" y2="2399.85" stroke="#1a8a1a" stroke-width="3"/>
<line x1="315.55" y1="2335.67" x2="325.55" y2="2335.67" stroke="#1a8a1a" stroke-width="2.8"/>
<line x1="315.55" y1="2399.85" x2="325.55" y2="2399.85" stroke="#1a8a1a" stroke-width="2.8"/>
<polygon points="172.9,2362.67 177.1,2367.5 172.9,2372.33 168.7,2367.5" fill="#1a8a1a"/>
<polygon points="185.65,2388.55 189.85,2393.38 185.65,2398.21 181.45,2393.38" fill="#1a8a1a"/>
<polygon points="226.12,2383.37 230.32,2388.2 226.12,2393.03 221.92,2388.2" fill="#1a8a1a"/>
<polygon points="253.1,2366.55 257.3,2371.38 253.1,2376.21 248.9,2371.38" fill="#1a8a1a"/>
<polygon points="320.55,2362.67 324.75,2367.5 320.55,2372.33 316.35,2367.5" fill="#1a8a1a"/>
<polyline points="172.9,2367.5 185.65,2406.32 226.12,2401.14 253.1,2408.91 320.55,2415.38 347.53,2419.26 374.51,2375.26 414.98,2407.61 441.96,2385.62 468.94,2362.97 522.9,2372.68 549.88,2333.21 603.84,2333.34" fill="none" stroke="#ec1c24" stroke-width="3" stroke-linejoin="round"/>
<line x1="185.65" y1="2399.85" x2="185.65" y2="2414.08" stroke="#ec1c24" stroke-width="3"/>
<line x1="180.65" y1="2399.85" x2="190.65" y2="2399.85" stroke="#ec1c24" stroke-width="2.8"/>
<line x1="180.65" y1="2414.08" x2="190.65" y2="2414.08" stroke="#ec1c24" stroke-width="2.8"/>
<line x1="226.12" y1="2390.79" x2="226.12" y2="2411.5" stroke="#ec1c24" stroke-width="3"/>
<line x1="221.12" y1="2390.79" x2="231.12" y2="2390.79" stroke="#ec1c24" stroke-width="2.8"/>
<line x1="221.12" y1="2411.5" x2="231.12" y2="2411.5" stroke="#ec1c24" stroke-width="2.8"/>
<line x1="253.1" y1="2388.2" x2="253.1" y2="2429.61" stroke="#ec1c24" stroke-width="3"/>
<line x1="248.1" y1="2388.2" x2="258.1" y2="2388.2" stroke="#ec1c24" stroke-width="2.8"/>
<line x1="248.1" y1="2429.61" x2="258.1" y2="2429.61" stroke="#ec1c24" stroke-width="2.8"/>
<line x1="320.55" y1="2397.26" x2="320.55" y2="2433.49" stroke="#ec1c24" stroke-width="3"/>
<line x1="315.55" y1="2397.26" x2="325.55" y2="2397.26" stroke="#ec1c24" stroke-width="2.8"/>
<line x1="315.55" y1="2433.49" x2="325.55" y2="2433.49" stroke="#ec1c24" stroke-width="2.8"/>
<line x1="347.53" y1="2402.44" x2="347.53" y2="2436.08" stroke="#ec1c24" stroke-width="3"/>
<line x1="342.53" y1="2402.44" x2="352.53" y2="2402.44" stroke="#ec1c24" stroke-width="2.8"/>
<line x1="342.53" y1="2436.08" x2="352.53" y2="2436.08" stroke="#ec1c24" stroke-width="2.8"/>
<line x1="374.51" y1="2342.14" x2="374.51" y2="2407.61" stroke="#ec1c24" stroke-width="3"/>
<line x1="369.51" y1="2342.14" x2="379.51" y2="2342.14" stroke="#ec1c24" stroke-width="2.8"/>
<line x1="369.51" y1="2407.61" x2="379.51" y2="2407.61" stroke="#ec1c24" stroke-width="2.8"/>
<line x1="414.98" y1="2398.56" x2="414.98" y2="2416.67" stroke="#ec1c24" stroke-width="3"/>
<line x1="409.98" y1="2398.56" x2="419.98" y2="2398.56" stroke="#ec1c24" stroke-width="2.8"/>
<line x1="409.98" y1="2416.67" x2="419.98" y2="2416.67" stroke="#ec1c24" stroke-width="2.8"/>
<line x1="441.96" y1="2372.68" x2="441.96" y2="2398.56" stroke="#ec1c24" stroke-width="3"/>
<line x1="436.96" y1="2372.68" x2="446.96" y2="2372.68" stroke="#ec1c24" stroke-width="2.8"/>
<line x1="436.96" y1="2398.56" x2="446.96" y2="2398.56" stroke="#ec1c24" stroke-width="2.8"/>
<line x1="468.94" y1="2344.21" x2="468.94" y2="2379.79" stroke="#ec1c24" stroke-width="3"/>
<line x1="463.94" y1="2344.21" x2="473.94" y2="2344.21" stroke="#ec1c24" stroke-width="2.8"/>
<line x1="463.94" y1="2379.79" x2="473.94" y2="2379.79" stroke="#ec1c24" stroke-width="2.8"/>
<line x1="522.9" y1="2357.15" x2="522.9" y2="2388.2" stroke="#ec1c24" stroke-width="3"/>
<line x1="517.9" y1="2357.15" x2="527.9" y2="2357.15" stroke="#ec1c24" stroke-width="2.8"/>
<line x1="517.9" y1="2388.2" x2="527.9" y2="2388.2" stroke="#ec1c24" stroke-width="2.8"/>
<line x1="549.88" y1="2322.21" x2="549.88" y2="2344.21" stroke="#ec1c24" stroke-width="3"/>
<line x1="544.88" y1="2322.21" x2="554.88" y2="2322.21" stroke="#ec1c24" stroke-width="2.8"/>
<line x1="544.88" y1="2344.21" x2="554.88" y2="2344.21" stroke="#ec1c24" stroke-width="2.8"/>
<line x1="603.84" y1="2319.1" x2="603.84" y2="2347.18" stroke="#ec1c24" stroke-width="3"/>
<line x1="598.84" y1="2319.1" x2="608.84" y2="2319.1" stroke="#ec1c24" stroke-width="2.8"/>
<line x1="598.84" y1="2347.18" x2="608.84" y2="2347.18" stroke="#ec1c24" stroke-width="2.8"/>
<polygon points="172.9,2362.67 177.1,2367.5 172.9,2372.33 168.7,2367.5" fill="#ec1c24"/>
<polygon points="185.65,2401.49 189.85,2406.32 185.65,2411.15 181.45,2406.32" fill="#ec1c24"/>
<polygon points="226.12,2396.31 230.32,2401.14 226.12,2405.97 221.92,2401.14" fill="#ec1c24"/>
<polygon points="253.1,2404.08 257.3,2408.91 253.1,2413.74 248.9,2408.91" fill="#ec1c24"/>
<polygon points="320.55,2410.55 324.75,2415.38 320.55,2420.21 316.35,2415.38" fill="#ec1c24"/>
<polygon points="347.53,2414.43 351.73,2419.26 347.53,2424.09 343.33,2419.26" fill="#ec1c24"/>
<polygon points="374.51,2370.43 378.71,2375.26 374.51,2380.09 370.31,2375.26" fill="#ec1c24"/>
<polygon points="414.98,2402.78 419.18,2407.61 414.98,2412.44 410.78,2407.61" fill="#ec1c24"/>
<polygon points="441.96,2380.79 446.16,2385.62 441.96,2390.45 437.76,2385.62" fill="#ec1c24"/>
<polygon points="468.94,2358.14 473.14,2362.97 468.94,2367.8 464.74,2362.97" fill="#ec1c24"/>
<polygon points="522.9,2367.85 527.1,2372.68 522.9,2377.51 518.7,2372.68" fill="#ec1c24"/>
<polygon points="549.88,2328.38 554.08,2333.21 549.88,2338.04 545.68,2333.21" fill="#ec1c24"/>
<polygon points="603.84,2328.51 608.04,2333.34 603.84,2338.17 599.64,2333.34" fill="#ec1c24"/>
<polyline points="172.9,2367.5 185.65,2389.5 226.12,2380.44 253.1,2361.03 320.55,2403.73 347.53,2404.38 374.51,2408.65 414.98,2377.85 441.96,2364.39 468.94,2356.76 522.9,2372.93 549.88,2331.4 603.84,2372.93" fill="none" stroke="#f47a20" stroke-width="3" stroke-linejoin="round"/>
<line x1="185.65" y1="2381.73" x2="185.65" y2="2397.26" stroke="#f47a20" stroke-width="3"/>
<line x1="180.65" y1="2381.73" x2="190.65" y2="2381.73" stroke="#f47a20" stroke-width="2.8"/>
<line x1="180.65" y1="2397.26" x2="190.65" y2="2397.26" stroke="#f47a20" stroke-width="2.8"/>
<line x1="226.12" y1="2370.09" x2="226.12" y2="2390.79" stroke="#f47a20" stroke-width="3"/>
<line x1="221.12" y1="2370.09" x2="231.12" y2="2370.09" stroke="#f47a20" stroke-width="2.8"/>
<line x1="221.12" y1="2390.79" x2="231.12" y2="2390.79" stroke="#f47a20" stroke-width="2.8"/>
<line x1="253.1" y1="2348.09" x2="253.1" y2="2373.97" stroke="#f47a20" stroke-width="3"/>
<line x1="248.1" y1="2348.09" x2="258.1" y2="2348.09" stroke="#f47a20" stroke-width="2.8"/>
<line x1="248.1" y1="2373.97" x2="258.1" y2="2373.97" stroke="#f47a20" stroke-width="2.8"/>
<line x1="320.55" y1="2386.91" x2="320.55" y2="2420.55" stroke="#f47a20" stroke-width="3"/>
<line x1="315.55" y1="2386.91" x2="325.55" y2="2386.91" stroke="#f47a20" stroke-width="2.8"/>
<line x1="315.55" y1="2420.55" x2="325.55" y2="2420.55" stroke="#f47a20" stroke-width="2.8"/>
<line x1="347.53" y1="2382.51" x2="347.53" y2="2426.64" stroke="#f47a20" stroke-width="3"/>
<line x1="342.53" y1="2382.51" x2="352.53" y2="2382.51" stroke="#f47a20" stroke-width="2.8"/>
<line x1="342.53" y1="2426.64" x2="352.53" y2="2426.64" stroke="#f47a20" stroke-width="2.8"/>
<line x1="374.51" y1="2384.32" x2="374.51" y2="2432.2" stroke="#f47a20" stroke-width="3"/>
<line x1="369.51" y1="2384.32" x2="379.51" y2="2384.32" stroke="#f47a20" stroke-width="2.8"/>
<line x1="369.51" y1="2432.2" x2="379.51" y2="2432.2" stroke="#f47a20" stroke-width="2.8"/>
<line x1="414.98" y1="2355.6" x2="414.98" y2="2399.85" stroke="#f47a20" stroke-width="3"/>
<line x1="409.98" y1="2355.6" x2="419.98" y2="2355.6" stroke="#f47a20" stroke-width="2.8"/>
<line x1="409.98" y1="2399.85" x2="419.98" y2="2399.85" stroke="#f47a20" stroke-width="2.8"/>
<line x1="441.96" y1="2349.13" x2="441.96" y2="2378.63" stroke="#f47a20" stroke-width="3"/>
<line x1="436.96" y1="2349.13" x2="446.96" y2="2349.13" stroke="#f47a20" stroke-width="2.8"/>
<line x1="436.96" y1="2378.63" x2="446.96" y2="2378.63" stroke="#f47a20" stroke-width="2.8"/>
<line x1="468.94" y1="2338.26" x2="468.94" y2="2376.56" stroke="#f47a20" stroke-width="3"/>
<line x1="463.94" y1="2338.26" x2="473.94" y2="2338.26" stroke="#f47a20" stroke-width="2.8"/>
<line x1="463.94" y1="2376.56" x2="473.94" y2="2376.56" stroke="#f47a20" stroke-width="2.8"/>
<line x1="522.9" y1="2355.6" x2="522.9" y2="2390.79" stroke="#f47a20" stroke-width="3"/>
<line x1="517.9" y1="2355.6" x2="527.9" y2="2355.6" stroke="#f47a20" stroke-width="2.8"/>
<line x1="517.9" y1="2390.79" x2="527.9" y2="2390.79" stroke="#f47a20" stroke-width="2.8"/>
<line x1="549.88" y1="2322.99" x2="549.88" y2="2340.33" stroke="#f47a20" stroke-width="3"/>
<line x1="544.88" y1="2322.99" x2="554.88" y2="2322.99" stroke="#f47a20" stroke-width="2.8"/>
<line x1="544.88" y1="2340.33" x2="554.88" y2="2340.33" stroke="#f47a20" stroke-width="2.8"/>
<polygon points="172.9,2362.67 177.1,2367.5 172.9,2372.33 168.7,2367.5" fill="#f47a20"/>
<polygon points="185.65,2384.67 189.85,2389.5 185.65,2394.33 181.45,2389.5" fill="#f47a20"/>
<polygon points="226.12,2375.61 230.32,2380.44 226.12,2385.27 221.92,2380.44" fill="#f47a20"/>
<polygon points="253.1,2356.2 257.3,2361.03 253.1,2365.86 248.9,2361.03" fill="#f47a20"/>
<polygon points="320.55,2398.9 324.75,2403.73 320.55,2408.56 316.35,2403.73" fill="#f47a20"/>
<polygon points="347.53,2399.55 351.73,2404.38 347.53,2409.21 343.33,2404.38" fill="#f47a20"/>
<polygon points="374.51,2403.82 378.71,2408.65 374.51,2413.48 370.31,2408.65" fill="#f47a20"/>
<polygon points="414.98,2373.02 419.18,2377.85 414.98,2382.68 410.78,2377.85" fill="#f47a20"/>
<polygon points="441.96,2359.56 446.16,2364.39 441.96,2369.22 437.76,2364.39" fill="#f47a20"/>
<polygon points="468.94,2351.93 473.14,2356.76 468.94,2361.59 464.74,2356.76" fill="#f47a20"/>
<polygon points="522.9,2368.1 527.1,2372.93 522.9,2377.76 518.7,2372.93" fill="#f47a20"/>
<polygon points="549.88,2326.57 554.08,2331.4 549.88,2336.23 545.68,2331.4" fill="#f47a20"/>
<polygon points="603.84,2368.1 608.04,2372.93 603.84,2377.76 599.64,2372.93" fill="#f47a20"/>
<polyline points="172.9,2367.5 185.65,2393.38 226.12,2375.26 253.1,2359.74" fill="none" stroke="#1a8ca0" stroke-width="3" stroke-linejoin="round"/>
<line x1="185.65" y1="2386.91" x2="185.65" y2="2399.85" stroke="#1a8ca0" stroke-width="3"/>
<line x1="180.65" y1="2386.91" x2="190.65" y2="2386.91" stroke="#1a8ca0" stroke-width="2.8"/>
<line x1="180.65" y1="2399.85" x2="190.65" y2="2399.85" stroke="#1a8ca0" stroke-width="2.8"/>
<line x1="226.12" y1="2362.32" x2="226.12" y2="2388.2" stroke="#1a8ca0" stroke-width="3"/>
<line x1="221.12" y1="2362.32" x2="231.12" y2="2362.32" stroke="#1a8ca0" stroke-width="2.8"/>
<line x1="221.12" y1="2388.2" x2="231.12" y2="2388.2" stroke="#1a8ca0" stroke-width="2.8"/>
<line x1="253.1" y1="2346.8" x2="253.1" y2="2372.68" stroke="#1a8ca0" stroke-width="3"/>
<line x1="248.1" y1="2346.8" x2="258.1" y2="2346.8" stroke="#1a8ca0" stroke-width="2.8"/>
<line x1="248.1" y1="2372.68" x2="258.1" y2="2372.68" stroke="#1a8ca0" stroke-width="2.8"/>
<polygon points="172.9,2362.67 177.1,2367.5 172.9,2372.33 168.7,2367.5" fill="#1a8ca0"/>
<polygon points="185.65,2388.55 189.85,2393.38 185.65,2398.21 181.45,2393.38" fill="#1a8ca0"/>
<polygon points="226.12,2370.43 230.32,2375.26 226.12,2380.09 221.92,2375.26" fill="#1a8ca0"/>
<polygon points="253.1,2354.91 257.3,2359.74 253.1,2364.57 248.9,2359.74" fill="#1a8ca0"/>
<polyline points="172.9,2367.5 185.65,2371.38 226.12,2349.38 253.1,2322.21" fill="none" stroke="#1414c8" stroke-width="3" stroke-linejoin="round"/>
<line x1="185.65" y1="2362.32" x2="185.65" y2="2380.44" stroke="#1414c8" stroke-width="3"/>
<line x1="180.65" y1="2362.32" x2="190.65" y2="2362.32" stroke="#1414c8" stroke-width="2.8"/>
<line x1="180.65" y1="2380.44" x2="190.65" y2="2380.44" stroke="#1414c8" stroke-width="2.8"/>
<line x1="226.12" y1="2331.27" x2="226.12" y2="2368.79" stroke="#1414c8" stroke-width="3"/>
<line x1="221.12" y1="2331.27" x2="231.12" y2="2331.27" stroke="#1414c8" stroke-width="2.8"/>
<line x1="221.12" y1="2368.79" x2="231.12" y2="2368.79" stroke="#1414c8" stroke-width="2.8"/>
<line x1="253.1" y1="2304.48" x2="253.1" y2="2338.26" stroke="#1414c8" stroke-width="3"/>
<line x1="248.1" y1="2304.48" x2="258.1" y2="2304.48" stroke="#1414c8" stroke-width="2.8"/>
<line x1="248.1" y1="2338.26" x2="258.1" y2="2338.26" stroke="#1414c8" stroke-width="2.8"/>
<polygon points="172.9,2362.67 177.1,2367.5 172.9,2372.33 168.7,2367.5" fill="#1414c8"/>
<polygon points="185.65,2366.55 189.85,2371.38 185.65,2376.21 181.45,2371.38" fill="#1414c8"/>
<polygon points="226.12,2344.55 230.32,2349.38 226.12,2354.21 221.92,2349.38" fill="#1414c8"/>
<polygon points="253.1,2317.38 257.3,2322.21 253.1,2327.04 248.9,2322.21" fill="#1414c8"/>
<polyline points="172.9,2367.5 185.65,2374.75 226.12,2341.62 253.1,2296.85" fill="none" stroke="#000000" stroke-width="3" stroke-linejoin="round"/>
<line x1="185.65" y1="2360.64" x2="185.65" y2="2388.2" stroke="#000000" stroke-width="3"/>
<line x1="180.65" y1="2360.64" x2="190.65" y2="2360.64" stroke="#000000" stroke-width="2.8"/>
<line x1="180.65" y1="2388.2" x2="190.65" y2="2388.2" stroke="#000000" stroke-width="2.8"/>
<line x1="226.12" y1="2331.27" x2="226.12" y2="2351.97" stroke="#000000" stroke-width="3"/>
<line x1="221.12" y1="2331.27" x2="231.12" y2="2331.27" stroke="#000000" stroke-width="2.8"/>
<line x1="221.12" y1="2351.97" x2="231.12" y2="2351.97" stroke="#000000" stroke-width="2.8"/>
<line x1="253.1" y1="2281.45" x2="253.1" y2="2311.86" stroke="#000000" stroke-width="3"/>
<line x1="248.1" y1="2281.45" x2="258.1" y2="2281.45" stroke="#000000" stroke-width="2.8"/>
<line x1="248.1" y1="2311.86" x2="258.1" y2="2311.86" stroke="#000000" stroke-width="2.8"/>
<circle cx="172.9" cy="2367.5" r="4.8" fill="#000000"/>
<circle cx="185.65" cy="2374.75" r="4.8" fill="#000000"/>
<circle cx="226.12" cy="2341.62" r="4.8" fill="#000000"/>
<circle cx="253.1" cy="2296.85" r="4.8" fill="#000000"/>
<line x1="172.9" y1="2236.2" x2="172.9" y2="2562.5" stroke="#000" stroke-width="2.8"/>
<line x1="163.7" y1="2561.1" x2="657.8" y2="2561.1" stroke="#000" stroke-width="2.8"/>
<text x="159.1" y="2569.6" font-size="22" text-anchor="end" font-weight="bold" fill="#111" xml:space="preserve">-15</text>
<line x1="163.7" y1="2496.9" x2="172.9" y2="2496.9" stroke="#000" stroke-width="2.8"/>
<text x="159.1" y="2504.9" font-size="22" text-anchor="end" font-weight="bold" fill="#111" xml:space="preserve">-10</text>
<line x1="163.7" y1="2432.2" x2="172.9" y2="2432.2" stroke="#000" stroke-width="2.8"/>
<text x="159.1" y="2440.2" font-size="22" text-anchor="end" font-weight="bold" fill="#111" xml:space="preserve">-5</text>
<line x1="163.7" y1="2367.5" x2="172.9" y2="2367.5" stroke="#000" stroke-width="2.8"/>
<text x="159.1" y="2375.5" font-size="22" text-anchor="end" font-weight="bold" fill="#111" xml:space="preserve">0</text>
<line x1="163.7" y1="2302.8" x2="172.9" y2="2302.8" stroke="#000" stroke-width="2.8"/>
<text x="159.1" y="2310.8" font-size="22" text-anchor="end" font-weight="bold" fill="#111" xml:space="preserve">5</text>
<line x1="163.7" y1="2238.1" x2="172.9" y2="2238.1" stroke="#000" stroke-width="2.8"/>
<text x="159.1" y="2246.1" font-size="22" text-anchor="end" font-weight="bold" fill="#111" xml:space="preserve">10</text>
<line x1="252.4" y1="2561.1" x2="252.4" y2="2569" stroke="#000" stroke-width="2.8"/>
<text x="252.4" y="2595.7" font-size="22" text-anchor="middle" font-weight="bold" fill="#111" textLength="25.5" lengthAdjust="spacing" xml:space="preserve">20</text>
<line x1="387.3" y1="2561.1" x2="387.3" y2="2569" stroke="#000" stroke-width="2.8"/>
<text x="387.3" y="2595.7" font-size="22" text-anchor="middle" font-weight="bold" fill="#111" textLength="25.5" lengthAdjust="spacing" xml:space="preserve">30</text>
<line x1="522.2" y1="2561.1" x2="522.2" y2="2569" stroke="#000" stroke-width="2.8"/>
<text x="522.2" y="2595.7" font-size="22" text-anchor="middle" font-weight="bold" fill="#111" textLength="25.5" lengthAdjust="spacing" xml:space="preserve">40</text>
<line x1="657.1" y1="2561.1" x2="657.1" y2="2569" stroke="#000" stroke-width="2.8"/>
<text x="657.1" y="2595.7" font-size="22" text-anchor="middle" font-weight="bold" fill="#111" textLength="25.5" lengthAdjust="spacing" xml:space="preserve">50</text>
<line x1="731.4" y1="2260.3" x2="765.7" y2="2260.3" stroke="#000000" stroke-width="2.8"/>
<circle cx="748.4" cy="2260.3" r="4.8" fill="#000000"/>
<text x="785" y="2268.3" font-size="26" fill="#111" textLength="85.7" lengthAdjust="spacing" xml:space="preserve">Vehicle</text>
<line x1="731.4" y1="2297.3" x2="765.7" y2="2297.3" stroke="#1414c8" stroke-width="2.8"/>
<polygon points="748.4,2292.47 752.6,2297.3 748.4,2302.13 744.2,2297.3" fill="#1414c8"/>
<text x="786.2" y="2305.3" font-size="26" fill="#111" textLength="150" lengthAdjust="spacing" xml:space="preserve">15mg/kg BID</text>
<line x1="731.4" y1="2334.6" x2="765.7" y2="2334.6" stroke="#1a8ca0" stroke-width="2.8"/>
<polygon points="748.4,2329.77 752.6,2334.6 748.4,2339.43 744.2,2334.6" fill="#1a8ca0"/>
<text x="785" y="2342.6" font-size="26" fill="#111" textLength="151.5" lengthAdjust="spacing" xml:space="preserve">30mg/kg BID</text>
<line x1="731.4" y1="2371.8" x2="765.7" y2="2371.8" stroke="#1a8a1a" stroke-width="2.8"/>
<polygon points="748.4,2366.97 752.6,2371.8 748.4,2376.63 744.2,2371.8" fill="#1a8a1a"/>
<text x="785" y="2379.8" font-size="26" fill="#111" textLength="151.5" lengthAdjust="spacing" xml:space="preserve">60mg/kg BID</text>
<line x1="731.4" y1="2408.6" x2="765.7" y2="2408.6" stroke="#f47a20" stroke-width="2.8"/>
<polygon points="748.4,2403.77 752.6,2408.6 748.4,2413.43 744.2,2408.6" fill="#f47a20"/>
<text x="786.2" y="2416.6" font-size="26" fill="#111" textLength="165" lengthAdjust="spacing" xml:space="preserve">120mg/kg BID</text>
<line x1="731.4" y1="2445.8" x2="765.7" y2="2445.8" stroke="#ec1c24" stroke-width="2.8"/>
<polygon points="748.4,2440.97 752.6,2445.8 748.4,2450.63 744.2,2445.8" fill="#ec1c24"/>
<text x="785" y="2453.8" font-size="26" fill="#111" textLength="166.5" lengthAdjust="spacing" xml:space="preserve">250mg/kg BID</text>
<line x1="731.4" y1="2483.1" x2="765.7" y2="2483.1" stroke="#7a1a96" stroke-width="2.8"/>
<polygon points="748.4,2478.27 752.6,2483.1 748.4,2487.93 744.2,2483.1" fill="#7a1a96"/>
<text x="785" y="2491.1" font-size="26" fill="#111" textLength="166.5" lengthAdjust="spacing" xml:space="preserve">500mg/kg BID</text>
</g>
</svg>
</body>
</html>
